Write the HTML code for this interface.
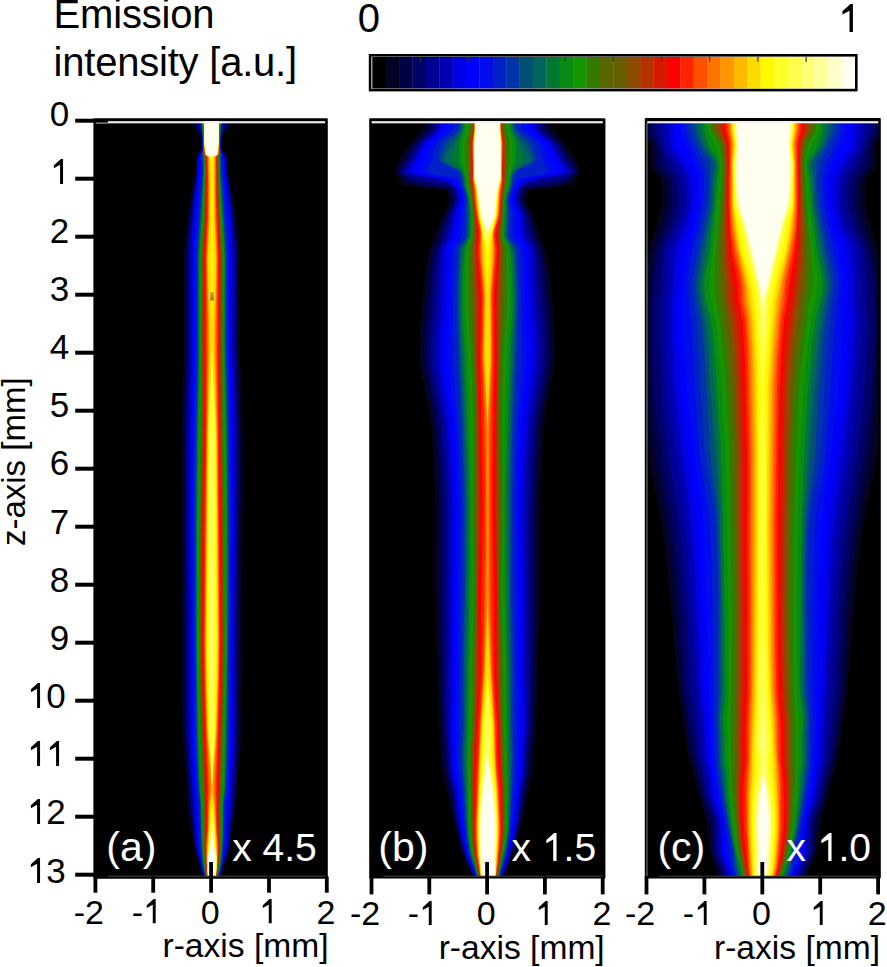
<!DOCTYPE html><html><head><meta charset="utf-8"><style>
html,body{margin:0;padding:0;background:#fff;overflow:hidden;}
body{width:887px;height:967px;position:relative;overflow:hidden;font-family:"Liberation Sans",sans-serif;}
div{position:absolute;line-height:1;white-space:pre;}
svg{position:absolute;left:0;top:0;}
svg.o{position:static;display:inline;width:.556em;height:.716em;fill:currentColor;vertical-align:baseline;}
</style></head><body>
<svg width="887" height="967" viewBox="0 0 887 967" shape-rendering="auto">
<rect x="372.30" y="56.9" width="13.69" height="31.6" fill="#000000"/>
<rect x="385.69" y="56.9" width="13.69" height="31.6" fill="#040422"/>
<rect x="399.08" y="56.9" width="13.69" height="31.6" fill="#000044"/>
<rect x="412.47" y="56.9" width="13.69" height="31.6" fill="#000069"/>
<rect x="425.86" y="56.9" width="13.69" height="31.6" fill="#000091"/>
<rect x="439.24" y="56.9" width="13.69" height="31.6" fill="#0000b2"/>
<rect x="452.63" y="56.9" width="13.69" height="31.6" fill="#0000e4"/>
<rect x="466.02" y="56.9" width="13.69" height="31.6" fill="#0000ff"/>
<rect x="479.41" y="56.9" width="13.69" height="31.6" fill="#000ceb"/>
<rect x="492.80" y="56.9" width="13.69" height="31.6" fill="#0020c8"/>
<rect x="506.19" y="56.9" width="13.69" height="31.6" fill="#0034aa"/>
<rect x="519.58" y="56.9" width="13.69" height="31.6" fill="#005073"/>
<rect x="532.97" y="56.9" width="13.69" height="31.6" fill="#00645f"/>
<rect x="546.36" y="56.9" width="13.69" height="31.6" fill="#007832"/>
<rect x="559.74" y="56.9" width="13.69" height="31.6" fill="#0a8c14"/>
<rect x="573.13" y="56.9" width="13.69" height="31.6" fill="#149600"/>
<rect x="586.52" y="56.9" width="13.69" height="31.6" fill="#327a00"/>
<rect x="599.91" y="56.9" width="13.69" height="31.6" fill="#5a6600"/>
<rect x="613.30" y="56.9" width="13.69" height="31.6" fill="#665e00"/>
<rect x="626.69" y="56.9" width="13.69" height="31.6" fill="#8c4b00"/>
<rect x="640.08" y="56.9" width="13.69" height="31.6" fill="#b43200"/>
<rect x="653.47" y="56.9" width="13.69" height="31.6" fill="#d71900"/>
<rect x="666.86" y="56.9" width="13.69" height="31.6" fill="#ff0000"/>
<rect x="680.24" y="56.9" width="13.69" height="31.6" fill="#ff2300"/>
<rect x="693.63" y="56.9" width="13.69" height="31.6" fill="#ff5000"/>
<rect x="707.02" y="56.9" width="13.69" height="31.6" fill="#ff7300"/>
<rect x="720.41" y="56.9" width="13.69" height="31.6" fill="#ff9600"/>
<rect x="733.80" y="56.9" width="13.69" height="31.6" fill="#ffb900"/>
<rect x="747.19" y="56.9" width="13.69" height="31.6" fill="#ffdc00"/>
<rect x="760.58" y="56.9" width="13.69" height="31.6" fill="#fffa00"/>
<rect x="773.97" y="56.9" width="13.69" height="31.6" fill="#ffff28"/>
<rect x="787.36" y="56.9" width="13.69" height="31.6" fill="#ffff4b"/>
<rect x="800.74" y="56.9" width="13.69" height="31.6" fill="#ffff73"/>
<rect x="814.13" y="56.9" width="13.69" height="31.6" fill="#ffff9b"/>
<rect x="827.52" y="56.9" width="13.69" height="31.6" fill="#ffffc8"/>
<rect x="840.91" y="56.9" width="13.69" height="31.6" fill="#fffff0"/>
<rect x="419.9" y="56.9" width="1.2" height="5" fill="#333"/>
<rect x="468.1" y="56.9" width="1.2" height="5" fill="#333"/>
<rect x="516.3" y="56.9" width="1.2" height="5" fill="#333"/>
<rect x="564.5" y="56.9" width="1.2" height="5" fill="#333"/>
<rect x="612.7" y="56.9" width="1.2" height="5" fill="#333"/>
<rect x="660.9" y="56.9" width="1.2" height="5" fill="#333"/>
<rect x="709.1" y="56.9" width="1.2" height="5" fill="#333"/>
<rect x="757.3" y="56.9" width="1.2" height="5" fill="#333"/>
<rect x="805.5" y="56.9" width="1.2" height="5" fill="#333"/>
<rect x="370.1" y="55.3" width="486.2" height="34.8" fill="none" stroke="#000" stroke-width="2.6"/>
<rect x="93.4" y="118.3" width="234.4" height="760.4" rx="1" fill="#000"/>
<clipPath id="ca"><rect x="95.7" y="121.0" width="229.8" height="755.7"/></clipPath>
<g clip-path="url(#ca)"><rect x="95.7" y="121.0" width="229.8" height="755.7" fill="#000"/>
<path fill="#040422" d="M232.4,121.0 231.7,124.0 230.4,127.0 223.1,134.0 222.5,135.0 221.3,140.0 221.3,148.0 221.7,149.0 226.3,154.0 227.7,157.0 228.3,173.0 233.9,201.0 235.8,212.0 238.7,237.0 239.8,253.0 239.7,348.0 242.1,417.0 242.5,439.0 242.3,654.0 241.7,719.0 241.0,742.0 237.9,780.0 236.2,810.0 233.0,827.0 230.3,847.0 221.1,876.0 202.5,876.0 194.0,848.0 192.9,842.0 191.1,827.0 187.5,809.0 186.6,785.0 183.0,744.0 182.2,724.0 181.5,648.0 181.7,435.0 182.1,414.0 183.9,351.0 184.0,254.0 185.2,237.0 188.3,211.0 192.8,186.0 195.5,173.0 195.7,157.0 196.9,154.0 201.4,149.0 201.7,148.0 201.7,140.0 200.5,135.0 199.9,134.0 192.6,127.0 191.3,124.0 190.6,121.0Z"/>
<path fill="#000044" d="M230.1,121.0 229.5,124.0 228.4,127.0 222.6,134.0 222.1,135.0 221.2,140.0 221.1,148.0 222.1,150.0 225.6,154.0 227.0,157.0 228.0,174.0 232.7,200.0 234.8,214.0 237.2,238.0 238.2,254.0 238.1,348.0 240.4,417.0 240.8,440.0 239.7,731.0 238.9,749.0 234.6,811.0 232.2,826.0 229.5,847.0 228.0,853.0 220.8,876.0 202.8,876.0 194.8,848.0 193.8,842.0 192.3,828.0 189.2,810.0 188.7,805.0 187.9,784.0 184.7,745.0 184.1,730.0 183.4,583.0 183.4,436.0 183.7,415.0 185.5,351.0 185.5,255.0 186.6,238.0 189.6,211.0 193.4,187.0 196.0,173.0 196.4,157.0 197.6,154.0 201.0,150.0 201.9,148.0 201.8,140.0 200.9,135.0 200.4,134.0 194.6,127.0 193.5,124.0 192.9,121.0Z"/>
<path fill="#000069" d="M227.8,121.0 226.3,127.0 221.7,135.0 221.0,140.0 220.9,148.0 221.7,150.0 225.6,155.0 226.4,157.0 227.3,173.0 231.2,197.0 233.4,214.0 235.8,239.0 236.7,254.0 236.5,348.0 238.7,417.0 239.1,440.0 237.8,732.0 237.1,753.0 233.8,802.0 229.6,841.0 228.7,847.0 227.6,852.0 220.5,876.0 203.2,876.0 196.8,853.0 195.4,847.0 193.2,828.0 190.7,810.0 186.7,750.0 186.0,730.0 185.2,540.0 185.1,436.0 185.4,415.0 187.1,351.0 187.1,255.0 188.1,239.0 191.0,210.0 194.1,187.0 196.6,172.0 197.0,157.0 197.7,155.0 201.4,150.0 202.1,148.0 202.0,140.0 201.3,135.0 196.7,127.0 195.2,121.0Z"/>
<path fill="#000091" d="M225.4,121.0 224.0,128.0 221.3,135.0 220.8,140.0 220.7,148.0 221.4,150.0 224.3,154.0 225.7,157.0 226.8,173.0 229.2,189.0 232.0,213.0 234.4,240.0 235.2,256.0 235.0,347.0 237.0,417.0 237.4,440.0 236.0,625.0 236.0,734.0 235.4,755.0 233.3,790.0 228.8,840.0 227.9,847.0 226.9,852.0 223.4,865.0 220.1,876.0 203.5,876.0 197.2,852.0 195.4,841.0 191.8,804.0 188.6,755.0 187.8,732.0 187.8,630.0 187.0,540.0 186.8,436.0 188.7,351.0 188.6,257.0 189.5,240.0 192.4,209.0 194.9,187.0 197.2,171.0 197.7,157.0 198.4,155.0 201.7,150.0 202.3,148.0 202.2,140.0 201.7,135.0 199.0,128.0 197.6,121.0Z"/>
<path fill="#0000b2" d="M224.3,121.0 223.3,128.0 221.1,135.0 220.6,148.0 221.6,151.0 224.7,156.0 225.2,158.0 226.2,173.0 228.9,194.0 231.0,213.0 233.1,240.0 233.8,256.0 233.5,347.0 235.5,417.0 235.8,440.0 235.4,550.0 234.7,630.0 234.7,734.0 234.0,757.0 232.1,790.0 230.5,806.0 227.8,843.0 227.2,848.0 226.1,853.0 219.8,876.0 203.8,876.0 197.7,852.0 196.3,843.0 192.4,795.0 190.7,770.0 189.6,749.0 189.1,731.0 189.1,629.0 188.3,541.0 188.4,436.0 190.1,351.0 190.0,257.0 190.4,246.0 191.4,232.0 194.2,201.0 197.8,171.0 198.4,157.0 199.0,155.0 201.6,151.0 202.4,148.0 201.9,135.0 199.7,128.0 198.7,121.0Z"/>
<path fill="#0000e4" d="M223.2,121.0 222.7,127.0 220.9,135.0 220.4,148.0 221.6,152.0 224.0,156.0 224.6,159.0 225.6,172.0 229.9,213.0 231.9,240.0 232.5,255.0 232.0,346.0 234.2,440.0 234.1,550.0 233.3,633.0 233.3,734.0 232.9,753.0 231.8,776.0 230.9,791.0 229.2,806.0 226.9,846.0 225.6,853.0 219.4,876.0 204.2,876.0 198.2,852.0 197.2,846.0 195.2,813.0 193.4,792.0 191.7,767.0 190.8,748.0 190.5,731.0 190.4,630.0 189.7,540.0 190.1,429.0 191.6,349.0 191.3,257.0 191.7,245.0 192.7,231.0 194.9,203.0 198.3,171.0 198.9,158.0 199.7,155.0 201.6,152.0 202.6,148.0 202.1,135.0 200.3,127.0 199.8,121.0Z"/>
<path fill="#0000ff" d="M222.0,121.0 222.0,127.0 220.7,135.0 220.3,148.0 221.1,152.0 223.7,157.0 224.1,160.0 228.8,212.0 230.5,238.0 231.1,252.0 230.5,343.0 232.6,438.0 232.8,549.0 232.0,630.0 232.0,736.0 231.3,761.0 229.8,790.0 227.8,806.0 226.3,847.0 225.1,853.0 219.1,876.0 204.5,876.0 198.7,852.0 197.8,847.0 196.2,809.0 194.5,791.0 192.9,765.0 192.1,747.0 191.8,731.0 191.8,630.0 191.0,540.0 191.7,430.0 193.1,350.0 192.6,257.0 193.9,231.0 195.8,204.0 198.9,170.0 199.5,159.0 200.0,156.0 202.1,152.0 202.7,149.0 202.3,135.0 201.0,127.0 201.0,121.0Z"/>
<path fill="#000ceb" d="M221.8,121.0 221.7,127.0 220.6,135.0 220.2,148.0 220.9,152.0 222.3,155.0 222.8,158.0 223.8,173.0 227.3,213.0 229.0,239.0 229.6,253.0 229.1,344.0 231.2,440.0 231.5,554.0 230.5,734.0 229.9,762.0 228.5,790.0 226.4,806.0 226.0,828.0 225.1,847.0 222.5,862.0 218.9,876.0 204.7,876.0 201.7,863.0 199.0,847.0 197.3,805.0 195.8,791.0 193.8,755.0 193.2,730.0 192.3,557.0 192.4,510.0 193.1,432.0 194.5,351.0 194.2,255.0 194.9,240.0 197.0,208.0 200.2,170.0 200.7,157.0 201.2,154.0 202.3,152.0 202.8,149.0 202.4,135.0 201.3,127.0 201.2,121.0Z"/>
<path fill="#0020c8" d="M221.6,121.0 221.5,127.0 220.5,135.0 220.1,148.0 220.7,152.0 221.7,154.0 221.8,155.0 222.4,172.0 225.5,210.0 227.5,240.0 228.0,254.0 227.7,345.0 229.7,440.0 230.2,508.0 230.2,562.0 229.2,720.0 228.4,764.0 227.1,790.0 225.1,806.0 224.9,829.0 223.8,849.0 222.0,863.0 218.7,876.0 204.9,876.0 201.9,863.0 200.3,849.0 199.4,833.0 198.7,805.0 197.1,791.0 195.3,756.0 194.6,720.0 193.7,568.0 194.0,479.0 194.6,425.0 195.9,352.0 195.8,256.0 196.4,241.0 198.8,204.0 201.4,172.0 201.5,154.0 202.5,152.0 202.9,149.0 202.5,135.0 201.5,127.0 201.4,121.0Z"/>
<path fill="#0034aa" d="M221.4,121.0 221.3,127.0 220.4,135.0 220.0,148.0 220.5,152.0 221.3,154.0 220.8,157.0 221.1,173.0 223.6,204.0 225.9,240.0 226.5,255.0 226.2,345.0 228.3,440.0 228.9,514.0 228.8,578.0 228.1,701.0 226.9,765.0 225.8,790.0 223.7,805.0 223.8,830.0 222.1,860.0 221.0,867.0 218.5,876.0 205.1,876.0 202.8,867.0 201.9,860.0 200.5,831.0 200.0,804.0 198.5,791.0 196.8,758.0 195.8,705.0 195.0,590.0 195.1,501.0 196.1,427.0 197.4,353.0 197.3,257.0 197.9,242.0 200.9,195.0 202.8,172.0 202.6,157.0 201.9,155.0 201.9,154.0 202.7,152.0 202.9,147.0 202.6,135.0 201.7,127.0 201.6,121.0Z"/>
<path fill="#005073" d="M221.1,121.0 221.1,127.0 220.2,135.0 220.0,148.0 220.4,152.0 220.9,154.0 220.5,157.0 220.7,172.0 225.2,238.0 226.0,256.0 225.7,344.0 227.8,440.0 228.4,519.0 228.3,602.0 227.6,701.0 227.0,745.0 226.3,771.0 225.3,791.0 223.5,805.0 223.4,830.0 222.0,857.0 220.8,866.0 218.2,876.0 205.4,876.0 203.0,866.0 202.1,858.0 200.9,833.0 200.3,804.0 198.9,791.0 197.7,768.0 196.6,727.0 195.7,640.0 195.5,525.0 196.5,429.0 197.8,356.0 197.8,258.0 198.5,241.0 203.1,172.0 202.9,157.0 202.3,154.0 202.8,152.0 203.0,149.0 202.8,135.0 201.9,127.0 201.9,121.0Z"/>
<path fill="#00645f" d="M220.9,121.0 220.9,127.0 220.1,135.0 219.9,148.0 220.6,154.0 220.2,157.0 220.5,173.0 224.9,241.0 225.5,257.0 225.3,348.0 227.2,436.0 227.8,502.0 227.7,642.0 226.6,739.0 225.5,780.0 224.9,791.0 223.2,805.0 223.0,831.0 221.8,855.0 220.6,865.0 218.0,876.0 205.6,876.0 203.3,865.0 202.2,855.0 201.3,835.0 200.6,804.0 199.3,791.0 198.3,772.0 197.1,730.0 196.1,646.0 196.0,525.0 197.0,429.0 198.3,356.0 198.3,258.0 198.8,244.0 203.4,172.0 203.2,157.0 202.6,154.0 203.1,149.0 202.9,135.0 202.1,127.0 202.1,121.0Z"/>
<path fill="#007832" d="M220.7,121.0 220.7,127.0 220.0,134.0 219.8,147.0 220.2,154.0 219.9,157.0 220.1,173.0 224.5,243.0 225.0,257.0 224.8,348.0 226.7,435.0 227.3,500.0 227.3,646.0 226.0,743.0 224.9,783.0 224.5,791.0 222.9,806.0 222.8,828.0 221.9,851.0 220.4,864.0 217.8,876.0 205.8,876.0 203.5,864.0 202.2,851.0 200.9,805.0 199.7,792.0 198.9,775.0 197.6,730.0 196.5,649.0 196.5,524.0 197.5,429.0 198.8,356.0 198.8,258.0 199.2,246.0 201.4,216.0 203.7,173.0 203.5,157.0 203.0,154.0 203.2,150.0 203.0,135.0 202.3,127.0 202.3,121.0Z"/>
<path fill="#0a8c14" d="M220.5,121.0 219.7,147.0 219.9,175.0 221.2,201.0 224.0,245.0 224.5,257.0 224.3,348.0 226.2,435.0 226.8,499.0 226.9,649.0 225.0,765.0 224.2,790.0 222.6,806.0 222.0,846.0 220.3,862.0 217.5,876.0 206.1,876.0 203.8,863.0 202.2,847.0 201.2,805.0 200.0,791.0 198.7,754.0 197.4,693.0 196.9,651.0 197.0,522.0 198.0,429.0 199.3,356.0 199.3,258.0 199.9,244.0 202.0,215.0 204.0,171.0 203.8,157.0 203.4,154.0 203.1,134.0 202.5,127.0 202.5,121.0Z"/>
<path fill="#149600" d="M220.4,121.0 220.3,127.0 219.8,134.0 219.7,154.0 218.9,157.0 219.4,179.0 221.4,218.0 223.2,245.0 223.6,257.0 223.3,345.0 225.0,438.0 225.4,489.0 225.8,648.0 223.9,761.0 223.0,790.0 221.6,806.0 221.3,847.0 219.9,862.0 217.4,876.0 206.2,876.0 204.2,863.0 202.8,847.0 202.2,804.0 200.8,783.0 199.7,745.0 198.0,649.0 198.2,523.0 200.3,356.0 200.2,258.0 200.7,245.0 202.8,215.0 204.7,171.0 204.5,157.0 203.5,154.0 203.2,134.0 202.7,127.0 202.6,121.0Z"/>
<path fill="#327a00" d="M220.2,121.0 220.2,127.0 219.7,134.0 219.5,154.0 219.3,155.0 218.2,157.0 218.6,177.0 220.5,218.0 222.3,246.0 222.7,257.0 222.4,346.0 224.3,509.0 224.8,647.0 224.3,681.0 222.5,770.0 221.9,790.0 220.6,806.0 220.7,848.0 219.3,863.0 217.2,876.0 206.4,876.0 204.7,864.0 203.4,848.0 203.2,804.0 202.1,785.0 201.1,754.0 199.5,685.0 199.1,648.0 199.3,534.0 201.2,366.0 201.1,258.0 201.6,245.0 203.6,215.0 205.4,171.0 205.2,157.0 203.9,155.0 203.7,154.0 203.3,134.0 202.8,127.0 202.8,121.0Z"/>
<path fill="#5a6600" d="M220.1,121.0 220.1,127.0 219.5,134.0 219.4,154.0 219.1,155.0 217.5,157.0 217.8,176.0 221.8,257.0 221.5,350.0 223.2,525.0 223.7,646.0 223.3,678.0 221.3,771.0 220.7,790.0 219.6,806.0 220.1,848.0 219.0,862.0 217.1,876.0 206.5,876.0 205.1,864.0 204.0,848.0 204.2,804.0 203.1,781.0 202.2,750.0 200.6,681.0 200.1,647.0 200.5,540.0 201.7,445.0 202.0,404.0 202.0,258.0 202.5,245.0 204.4,215.0 206.1,171.0 205.9,157.0 204.1,155.0 203.8,154.0 203.5,134.0 202.9,127.0 202.9,121.0Z"/>
<path fill="#665e00" d="M220.0,121.0 220.0,127.0 219.4,134.0 219.2,154.0 218.9,155.0 217.4,157.0 217.7,175.0 219.0,209.0 221.4,257.0 221.1,352.0 222.9,529.0 223.3,646.0 222.9,678.0 220.8,770.0 220.2,790.0 219.3,806.0 219.8,848.0 218.8,862.0 217.0,876.0 206.7,876.0 205.3,864.0 204.3,848.0 204.5,803.0 202.3,736.0 200.9,678.0 200.5,647.0 200.9,538.0 202.3,440.0 202.4,258.0 202.9,245.0 204.7,215.0 206.2,171.0 206.0,157.0 204.3,155.0 203.9,153.0 203.6,134.0 203.0,127.0 203.0,121.0Z"/>
<path fill="#8c4b00" d="M219.9,121.0 219.8,127.0 219.3,134.0 219.1,153.0 218.8,155.0 217.3,157.0 217.6,175.0 218.8,210.0 221.0,257.0 220.8,357.0 222.5,531.0 222.9,645.0 222.5,677.0 220.4,767.0 219.7,790.0 218.9,806.0 219.5,848.0 218.5,862.0 216.8,876.0 206.8,876.0 205.6,864.0 204.6,849.0 204.9,802.0 202.6,730.0 201.3,676.0 200.9,646.0 201.3,537.0 202.8,440.0 202.8,258.0 203.2,246.0 205.0,215.0 206.3,171.0 206.1,157.0 204.5,155.0 204.1,153.0 203.7,134.0 203.2,127.0 203.1,121.0Z"/>
<path fill="#b43200" d="M219.8,121.0 219.7,127.0 219.2,134.0 219.0,153.0 218.6,155.0 217.2,157.0 218.5,212.0 220.6,257.0 220.4,363.0 221.1,456.0 222.1,532.0 222.5,645.0 221.9,685.0 219.3,790.0 218.6,805.0 219.2,848.0 218.3,862.0 216.7,876.0 206.9,876.0 205.8,864.0 204.9,849.0 205.2,801.0 202.0,688.0 201.3,646.0 201.7,537.0 203.2,440.0 203.2,258.0 203.6,246.0 205.4,215.0 206.4,171.0 206.2,157.0 204.6,155.0 204.2,153.0 203.8,133.0 203.3,127.0 203.2,121.0Z"/>
<path fill="#d71900" d="M219.6,121.0 219.6,127.0 219.0,134.0 218.9,153.0 218.5,155.0 217.1,157.0 218.3,216.0 220.2,257.0 220.0,372.0 220.6,456.0 221.7,533.0 222.2,645.0 221.6,680.0 218.3,805.0 218.8,848.0 218.1,862.0 216.6,876.0 207.1,876.0 206.0,864.0 205.3,849.0 205.6,820.0 205.4,790.0 202.3,686.0 201.6,646.0 202.0,537.0 203.7,440.0 203.6,258.0 205.6,216.0 206.5,171.0 206.3,157.0 204.8,155.0 204.3,152.0 203.9,133.0 203.4,127.0 203.4,121.0Z"/>
<path fill="#ff0000" d="M219.5,121.0 219.5,127.0 218.9,133.0 218.8,152.0 218.3,155.0 217.0,157.0 218.1,217.0 219.8,257.0 219.5,340.0 219.7,391.0 220.1,457.0 221.4,534.0 221.8,645.0 221.3,677.0 217.9,805.0 218.5,849.0 217.8,863.0 216.4,876.0 207.2,876.0 206.3,865.0 205.6,850.0 205.9,790.0 202.7,685.0 202.0,646.0 202.4,536.0 204.2,440.0 204.0,258.0 206.0,216.0 206.6,171.0 206.4,157.0 205.0,155.0 204.4,152.0 204.1,133.0 203.5,127.0 203.5,121.0Z"/>
<path fill="#ff2300" d="M219.4,121.0 219.4,127.0 218.9,133.0 218.7,152.0 218.1,155.0 216.5,157.0 216.9,202.0 218.8,257.0 218.4,355.0 220.3,580.0 220.6,646.0 219.8,691.0 217.1,783.0 217.2,820.0 218.3,848.0 217.6,862.0 216.3,876.0 207.3,876.0 206.4,864.0 205.8,847.0 206.8,828.0 207.0,783.0 205.0,730.0 203.6,674.0 203.2,640.0 203.8,540.0 205.2,440.0 205.3,358.0 205.0,258.0 206.8,215.0 207.1,170.0 206.9,157.0 205.1,155.0 204.7,154.0 204.4,151.0 203.6,121.0Z"/>
<path fill="#ff5000" d="M219.3,121.0 218.6,152.0 217.9,155.0 216.0,157.0 216.0,198.0 217.8,257.0 217.1,346.0 219.4,639.0 218.5,700.0 217.6,736.0 215.9,786.0 216.5,829.0 218.0,842.0 218.1,847.0 217.4,861.0 216.2,876.0 207.5,876.0 206.0,846.0 207.7,829.0 207.7,806.0 208.3,786.0 206.0,730.0 204.7,675.0 204.4,638.0 206.4,389.0 206.5,331.0 206.0,258.0 207.6,217.0 207.9,186.0 207.4,157.0 205.3,155.0 204.7,153.0 203.7,121.0Z"/>
<path fill="#ff7300" d="M219.2,121.0 218.4,152.0 218.2,154.0 217.7,155.0 215.5,157.0 215.4,186.0 215.9,219.0 217.3,257.0 216.2,343.0 217.6,440.0 219.0,637.0 218.6,676.0 217.2,732.0 214.8,785.0 214.8,793.0 215.5,804.0 216.2,829.0 217.6,845.0 217.2,862.0 216.1,876.0 207.6,876.0 206.8,863.0 206.5,845.0 208.0,829.0 208.3,806.0 209.3,793.0 209.4,788.0 208.9,773.0 206.5,730.0 205.1,675.0 204.8,636.0 207.4,359.0 207.3,328.0 206.5,258.0 208.1,217.0 208.4,185.0 207.8,157.0 205.5,155.0 204.9,153.0 204.3,144.0 203.8,121.0Z"/>
<path fill="#ff9600" d="M219.2,121.0 218.2,153.0 217.5,155.0 215.1,157.0 214.9,184.0 215.3,219.0 216.8,257.0 215.4,343.0 217.2,440.0 218.6,635.0 218.2,676.0 216.7,732.0 214.3,772.0 213.7,787.0 213.8,793.0 214.9,805.0 215.8,829.0 217.1,845.0 217.1,862.0 215.9,876.0 207.7,876.0 206.9,863.0 207.0,845.0 208.4,828.0 208.8,806.0 210.3,793.0 210.5,788.0 209.9,773.0 207.0,730.0 205.6,675.0 205.2,634.0 206.8,461.0 208.2,352.0 208.2,326.0 207.0,259.0 208.7,218.0 208.9,184.0 208.3,157.0 205.7,155.0 205.0,153.0 204.3,144.0 203.8,121.0Z"/>
<path fill="#ffb900" d="M219.1,121.0 218.2,152.0 217.9,154.0 217.3,155.0 214.6,157.0 214.5,164.0 214.7,218.0 216.3,259.0 216.0,279.0 214.7,325.0 214.5,345.0 216.8,440.0 218.2,644.0 217.7,682.0 216.2,732.0 213.2,774.0 212.6,790.0 212.9,794.0 214.3,805.0 216.8,852.0 216.9,864.0 215.8,876.0 207.8,876.0 207.0,864.0 207.2,852.0 208.8,828.0 209.4,806.0 211.2,794.0 211.6,790.0 210.9,774.0 208.3,744.0 207.5,731.0 206.1,682.0 205.6,645.0 207.2,453.0 209.1,349.0 209.0,326.0 207.7,279.0 207.5,259.0 209.3,218.0 209.4,177.0 208.8,157.0 205.9,155.0 205.3,154.0 204.9,151.0 204.4,143.0 203.9,121.0Z"/>
<path fill="#ffdc00" d="M219.0,121.0 218.6,142.0 218.1,152.0 217.8,154.0 217.2,155.0 214.2,157.0 213.9,165.0 214.2,219.0 215.6,249.0 215.8,260.0 215.4,280.0 213.8,324.0 213.6,344.0 214.1,367.0 216.4,440.0 217.8,644.0 217.3,682.0 215.7,732.0 212.8,772.0 212.1,786.0 212.0,786.0 211.3,772.0 208.9,744.0 208.0,731.0 206.5,682.0 206.0,645.0 207.8,436.0 210.0,350.0 209.8,325.0 208.3,280.0 208.0,261.0 208.2,250.0 209.9,218.0 209.9,170.0 209.2,157.0 206.1,155.0 205.4,154.0 205.0,151.0 204.4,143.0 204.0,121.0ZM212.1,791.0 213.9,807.0 216.7,856.0 216.6,866.0 215.7,876.0 207.9,876.0 207.3,867.0 207.3,857.0 209.2,828.0 210.0,806.0 212.1,791.0Z"/>
<path fill="#fffa00" d="M218.9,121.0 218.5,143.0 217.8,153.0 217.6,154.0 216.9,155.0 212.9,157.0 212.6,162.0 212.7,219.0 213.2,263.0 211.9,331.0 211.8,331.0 210.6,264.0 211.3,216.0 211.1,166.0 210.4,157.0 206.4,155.0 205.6,154.0 205.4,153.0 204.5,143.0 204.1,121.0ZM211.9,347.0 212.5,367.0 215.0,416.0 215.7,439.0 216.8,636.0 216.4,677.0 215.1,732.0 212.6,772.0 212.1,786.0 212.1,786.0 211.4,772.0 208.7,731.0 207.4,680.0 207.0,641.0 207.5,540.0 208.5,436.0 209.1,415.0 211.3,368.0 211.8,347.0ZM212.0,808.0 214.5,827.0 215.6,846.0 216.6,857.0 216.5,867.0 215.6,876.0 208.0,876.0 207.4,868.0 207.4,858.0 208.5,846.0 209.7,827.0 211.9,808.0Z"/>
<path fill="#ffff28" d="M218.9,121.0 218.5,143.0 217.7,153.0 217.4,154.0 216.6,155.0 213.6,156.0 211.7,157.0 211.7,157.0 209.8,156.0 206.7,155.0 205.8,154.0 205.5,153.0 204.5,143.0 204.1,121.0ZM211.9,348.0 215.1,440.0 215.6,509.0 215.7,599.0 215.7,656.0 215.0,703.0 214.3,737.0 212.1,785.0 212.0,785.0 209.4,731.0 208.4,680.0 208.1,641.0 208.1,536.0 208.7,469.0 209.4,426.0 211.3,371.0 211.8,348.0ZM212.0,808.0 214.0,827.0 215.1,846.0 216.5,858.0 216.3,868.0 215.5,876.0 208.1,876.0 207.5,868.0 207.5,858.0 209.0,846.0 210.1,827.0 211.9,808.0Z"/>
<path fill="#ffff4b" d="M218.8,121.0 218.4,143.0 217.5,153.0 217.3,154.0 216.4,155.0 213.5,156.0 211.7,157.0 211.7,157.0 209.8,156.0 206.8,155.0 205.9,154.0 205.7,153.0 204.6,143.0 204.2,121.0ZM211.9,349.0 214.4,437.0 215.0,529.0 214.3,696.0 213.7,736.0 212.1,784.0 212.0,784.0 210.2,737.0 209.8,714.0 209.2,650.0 208.8,547.0 209.0,502.0 209.9,433.0 211.8,349.0ZM211.9,808.0 213.7,828.0 214.7,846.0 216.4,859.0 216.2,869.0 215.4,876.0 208.2,876.0 207.6,869.0 207.6,859.0 209.5,846.0 211.9,808.0Z"/>
<path fill="#ffff73" d="M218.7,121.0 218.4,143.0 217.4,153.0 217.1,154.0 216.2,155.0 213.4,156.0 211.7,157.0 211.7,157.0 209.9,156.0 207.0,155.0 206.1,154.0 205.8,153.0 204.6,143.0 204.3,121.0ZM211.9,551.0 213.3,640.0 211.9,720.0 211.9,720.0 210.5,640.0 211.9,551.0ZM212.1,829.0 212.8,836.0 216.3,858.0 216.1,868.0 215.3,876.0 208.3,876.0 207.7,868.0 207.7,858.0 211.4,836.0 212.1,829.0Z"/>
<path fill="#ffff9b" d="M218.6,121.0 218.4,142.0 217.2,153.0 216.9,154.0 216.1,155.0 213.4,156.0 211.7,157.0 211.7,157.0 210.0,156.0 207.2,155.0 206.3,154.0 206.0,153.0 205.1,148.0 204.7,143.0 204.4,121.0ZM212.1,830.0 212.9,838.0 216.1,858.0 216.0,868.0 215.2,876.0 208.4,876.0 207.8,868.0 207.9,858.0 211.2,838.0 212.1,830.0Z"/>
<path fill="#ffffc8" d="M218.6,121.0 218.3,142.0 217.2,152.0 216.8,154.0 215.9,155.0 213.3,156.0 211.7,157.0 211.7,157.0 210.0,156.0 207.3,155.0 206.4,154.0 205.7,151.0 204.7,142.0 204.4,121.0ZM212.1,830.0 213.8,846.0 216.1,859.0 215.9,869.0 215.1,876.0 208.5,876.0 207.9,868.0 208.0,858.0 210.3,846.0 212.1,830.0Z"/>
<path fill="#fffff0" d="M218.5,121.0 218.3,142.0 217.1,152.0 216.6,154.0 215.8,155.0 213.2,156.0 211.7,157.0 211.7,157.0 210.1,156.0 207.5,155.0 206.6,154.0 205.6,150.0 204.7,142.0 204.5,121.0ZM212.1,830.0 213.7,847.0 215.6,856.0 216.0,859.0 215.7,869.0 215.0,876.0 208.6,876.0 208.0,869.0 208.0,859.0 210.6,846.0 212.1,830.0Z"/>
</g>
<rect x="95.7" y="122.3" width="12.3" height="1.6" fill="#777"/>
<rect x="108.0" y="121.2" width="217.1" height="2.1" fill="#f2f2f2"/>
<rect x="107.7" y="875.7" width="217.8" height="1" fill="#444"/>
<rect x="369.2" y="118.2" width="236.2" height="760.3" rx="1" fill="#000"/>
<clipPath id="cb"><rect x="371.4" y="121.0" width="231.80000000000007" height="755.5"/></clipPath>
<g clip-path="url(#cb)"><rect x="371.4" y="121.0" width="231.80000000000007" height="755.5" fill="#000"/>
<path fill="#040422" d="M548.0,121.0 552.5,129.0 564.1,143.0 573.5,156.0 575.1,159.0 578.3,166.0 579.2,169.0 579.6,172.0 579.1,174.0 575.5,180.0 574.5,183.0 573.5,185.0 568.4,186.0 533.1,189.0 528.2,190.0 527.1,193.0 526.3,197.0 526.1,200.0 526.7,203.0 527.9,206.0 532.8,215.0 539.3,235.0 544.7,247.0 545.6,250.0 547.8,261.0 550.5,279.0 552.6,300.0 554.6,332.0 554.9,354.0 554.3,363.0 552.9,374.0 546.3,408.0 544.3,421.0 543.5,429.0 541.6,459.0 540.6,481.0 540.2,500.0 539.8,605.0 537.7,668.0 536.5,718.0 536.0,731.0 533.7,750.0 532.2,771.0 531.0,779.0 526.1,803.0 522.1,821.0 518.8,834.0 515.1,847.0 509.9,863.0 506.2,872.0 503.8,876.0 472.6,876.0 469.2,870.0 465.6,862.0 462.9,855.0 459.6,844.0 452.3,815.0 446.8,790.0 443.4,776.0 442.1,768.0 439.2,732.0 437.5,666.0 435.5,612.0 435.2,592.0 435.3,504.0 434.8,486.0 433.9,466.0 431.6,430.0 430.8,422.0 428.8,409.0 421.7,373.0 420.3,363.0 419.7,354.0 419.7,344.0 420.2,331.0 423.0,295.0 425.0,276.0 427.6,259.0 429.6,249.0 430.6,246.0 443.6,214.0 448.1,204.0 448.7,201.0 448.6,197.0 447.8,193.0 446.8,190.0 441.9,189.0 406.6,186.0 401.5,185.0 400.5,183.0 399.5,180.0 395.9,174.0 395.4,172.0 395.8,169.0 396.7,166.0 399.9,159.0 401.5,156.0 410.9,143.0 422.5,129.0 427.0,121.0Z"/>
<path fill="#000044" d="M545.4,121.0 547.1,126.0 549.4,130.0 561.3,143.0 567.5,152.0 576.0,167.0 577.1,170.0 577.4,172.0 577.2,173.0 576.0,175.0 570.2,180.0 565.5,183.0 560.5,185.0 555.0,186.0 529.0,189.0 525.6,190.0 524.7,193.0 524.0,197.0 523.9,200.0 524.4,203.0 525.7,206.0 530.5,215.0 536.1,235.0 542.0,248.0 544.1,258.0 546.6,276.0 548.8,300.0 551.0,332.0 551.3,354.0 550.7,363.0 549.3,374.0 543.0,408.0 541.0,421.0 540.1,430.0 538.1,463.0 536.8,501.0 536.6,607.0 534.1,716.0 533.5,731.0 531.2,750.0 529.9,771.0 528.9,778.0 522.2,814.0 518.2,833.0 514.6,846.0 509.5,862.0 506.0,871.0 503.3,876.0 473.1,876.0 469.4,869.0 465.6,860.0 463.1,853.0 459.6,841.0 454.9,821.0 449.0,790.0 445.5,775.0 444.5,769.0 441.7,733.0 441.0,712.0 438.6,606.0 438.6,506.0 437.4,470.0 435.4,437.0 434.1,422.0 432.1,409.0 425.2,373.0 423.8,362.0 423.2,353.0 423.5,338.0 424.9,318.0 428.3,278.0 431.1,257.0 432.7,249.0 433.6,246.0 437.9,236.0 445.8,214.0 450.3,204.0 450.9,201.0 450.7,196.0 449.4,190.0 446.0,189.0 420.0,186.0 414.5,185.0 409.5,183.0 406.2,181.0 399.9,176.0 398.3,174.0 397.6,172.0 397.9,170.0 399.0,167.0 407.5,152.0 413.7,143.0 425.6,130.0 427.9,126.0 429.6,121.0Z"/>
<path fill="#000069" d="M542.8,121.0 543.7,126.0 544.9,129.0 548.1,133.0 555.7,140.0 559.3,144.0 562.5,149.0 569.1,161.0 574.0,168.0 574.9,170.0 575.2,172.0 574.3,174.0 572.0,176.0 566.8,179.0 562.4,181.0 547.5,185.0 525.1,189.0 523.1,190.0 521.9,196.0 521.6,200.0 522.2,203.0 528.3,215.0 533.0,235.0 539.0,248.0 540.6,256.0 543.1,276.0 546.6,321.0 547.6,339.0 547.7,354.0 547.2,363.0 545.8,374.0 539.4,409.0 537.5,422.0 536.2,440.0 534.4,472.0 533.5,503.0 533.2,616.0 531.7,708.0 531.0,732.0 528.7,750.0 527.2,774.0 518.5,827.0 515.2,841.0 509.7,859.0 505.7,870.0 502.8,876.0 473.6,876.0 469.7,868.0 465.6,858.0 463.0,850.0 459.9,839.0 456.7,824.0 451.1,790.0 447.9,776.0 446.9,769.0 445.6,748.0 444.2,733.0 443.5,710.0 441.9,604.0 441.9,504.0 440.9,474.0 439.3,446.0 437.6,423.0 435.5,409.0 428.8,373.0 427.4,362.0 426.8,353.0 427.0,341.0 428.0,325.0 432.2,274.0 434.6,255.0 436.3,247.0 441.1,236.0 448.1,214.0 452.5,204.0 453.2,201.0 452.9,195.0 451.9,190.0 449.9,189.0 427.5,185.0 412.6,181.0 408.2,179.0 403.0,176.0 400.7,174.0 399.8,172.0 400.1,170.0 401.0,168.0 405.9,161.0 412.5,149.0 415.7,144.0 419.3,140.0 426.9,133.0 430.1,129.0 431.3,126.0 432.2,121.0Z"/>
<path fill="#000091" d="M540.4,121.0 540.4,127.0 540.5,128.0 541.4,130.0 544.1,133.0 553.9,141.0 556.6,144.0 559.0,148.0 565.0,160.0 571.5,168.0 572.6,170.0 573.0,172.0 572.7,173.0 572.0,174.0 569.1,176.0 559.5,180.0 554.3,181.0 528.6,184.0 524.5,185.0 522.2,187.0 520.8,189.0 519.6,196.0 519.4,200.0 520.0,203.0 526.0,215.0 529.8,235.0 531.0,238.0 535.6,247.0 536.3,249.0 537.0,253.0 539.1,271.0 543.3,326.0 544.1,341.0 544.2,353.0 543.7,362.0 542.4,373.0 536.1,409.0 534.1,423.0 532.4,448.0 530.9,476.0 530.2,504.0 530.1,609.0 529.5,680.0 529.1,712.0 528.5,732.0 526.2,750.0 524.9,774.0 521.9,793.0 518.6,819.0 516.9,830.0 514.0,842.0 508.6,860.0 505.0,870.0 502.2,876.0 474.2,876.0 469.9,867.0 466.0,857.0 463.2,848.0 460.6,838.0 457.6,822.0 453.3,790.0 450.2,776.0 449.3,770.0 448.1,748.0 446.7,733.0 446.0,705.0 445.1,610.0 445.2,507.0 444.4,477.0 442.8,449.0 440.9,423.0 438.8,409.0 432.3,373.0 431.0,362.0 430.4,353.0 430.6,343.0 431.3,330.0 434.0,300.0 436.1,269.0 438.0,253.0 439.3,247.0 443.5,238.0 444.9,234.0 450.3,214.0 455.0,203.0 455.4,200.0 455.1,194.0 454.2,189.0 452.8,187.0 450.5,185.0 446.4,184.0 420.7,181.0 415.5,180.0 405.9,176.0 403.0,174.0 402.3,173.0 402.0,172.0 402.4,170.0 403.5,168.0 410.0,160.0 416.0,148.0 418.4,144.0 421.1,141.0 430.9,133.0 433.6,130.0 434.5,128.0 434.6,127.0 434.6,121.0Z"/>
<path fill="#0000b2" d="M537.7,121.0 537.7,127.0 537.8,128.0 538.7,130.0 541.4,133.0 551.2,141.0 553.9,144.0 556.3,148.0 562.2,160.0 568.9,169.0 569.8,172.0 568.8,173.0 566.0,174.0 541.4,179.0 530.7,182.0 525.0,184.0 521.9,186.0 519.2,189.0 517.9,196.0 517.6,200.0 518.2,203.0 523.7,215.0 526.7,235.0 527.9,238.0 532.5,246.0 533.8,250.0 535.2,265.0 537.1,302.0 539.5,334.0 539.9,344.0 539.9,354.0 539.4,363.0 538.2,374.0 532.5,410.0 530.7,424.0 528.5,456.0 527.2,482.0 526.7,507.0 527.1,588.0 526.7,730.0 524.8,750.0 523.9,771.0 523.3,776.0 520.5,792.0 517.1,822.0 515.1,834.0 512.6,844.0 507.8,860.0 504.3,870.0 501.7,876.0 474.7,876.0 470.3,866.0 466.8,857.0 463.8,847.0 461.5,838.0 458.8,823.0 454.8,790.0 451.6,776.0 450.6,770.0 448.5,731.0 448.1,590.0 448.7,510.0 448.2,486.0 446.8,459.0 444.3,424.0 442.4,410.0 436.4,373.0 435.2,362.0 434.7,353.0 435.1,337.0 438.2,300.0 439.8,266.0 441.2,250.0 442.3,246.0 446.6,238.0 448.0,234.0 452.5,214.0 456.8,203.0 457.2,200.0 456.9,195.0 455.8,189.0 453.1,186.0 450.0,184.0 444.3,182.0 433.6,179.0 409.0,174.0 406.2,173.0 405.2,172.0 406.1,169.0 412.8,160.0 418.7,148.0 421.1,144.0 423.8,141.0 433.6,133.0 436.3,130.0 437.2,128.0 437.3,127.0 437.3,121.0Z"/>
<path fill="#0000e4" d="M535.0,121.0 535.0,127.0 535.1,128.0 536.0,130.0 538.7,133.0 548.5,141.0 551.2,144.0 554.1,149.0 559.4,160.0 565.8,169.0 566.6,172.0 565.3,173.0 561.8,174.0 533.6,179.0 528.0,181.0 523.1,184.0 519.4,187.0 517.6,189.0 516.7,192.0 516.0,197.0 515.9,200.0 516.4,203.0 520.4,212.0 521.5,215.0 523.5,235.0 524.8,238.0 529.8,246.0 530.7,248.0 531.2,250.0 531.8,264.0 532.8,302.0 535.4,338.0 535.7,354.0 535.2,363.0 534.2,374.0 528.9,411.0 527.3,425.0 524.7,464.0 523.5,490.0 523.2,518.0 524.1,580.0 524.1,674.0 524.7,730.0 523.3,750.0 522.6,771.0 521.9,776.0 519.0,792.0 516.0,822.0 514.2,834.0 511.7,844.0 507.0,860.0 503.2,871.0 501.1,876.0 475.3,876.0 470.2,864.0 467.2,856.0 462.4,838.0 460.0,824.0 456.3,790.0 453.0,776.0 452.0,770.0 450.4,732.0 451.1,674.0 451.1,583.0 452.2,516.0 451.9,493.0 450.6,466.0 447.7,425.0 446.0,411.0 440.5,374.0 439.4,363.0 438.9,353.0 439.3,338.0 442.5,300.0 443.2,263.0 443.9,249.0 445.0,246.0 449.2,239.0 450.6,236.0 451.8,231.0 454.7,214.0 458.6,203.0 458.9,201.0 458.8,196.0 458.0,191.0 457.4,189.0 455.6,187.0 451.9,184.0 447.0,181.0 441.4,179.0 413.2,174.0 409.7,173.0 408.4,172.0 409.2,169.0 415.6,160.0 420.9,149.0 423.8,144.0 426.5,141.0 436.3,133.0 439.0,130.0 439.9,128.0 440.0,127.0 440.0,121.0Z"/>
<path fill="#0000ff" d="M532.3,121.0 532.3,127.0 532.4,128.0 533.3,130.0 536.0,133.0 545.8,141.0 548.5,144.0 551.4,149.0 556.6,160.0 562.1,168.0 563.0,170.0 563.4,172.0 561.8,173.0 557.4,174.0 530.3,178.0 525.4,179.0 523.0,180.0 520.5,185.0 516.1,189.0 515.5,190.0 514.3,197.0 514.1,200.0 514.6,203.0 518.3,212.0 519.2,215.0 520.0,231.0 520.7,236.0 522.2,239.0 527.2,246.0 528.4,249.0 528.6,305.0 531.2,340.0 531.5,354.0 531.0,364.0 530.0,375.0 525.3,412.0 523.9,426.0 521.0,470.0 519.9,496.0 519.8,524.0 521.1,586.0 521.4,673.0 522.8,728.0 521.2,771.0 520.6,776.0 518.4,786.0 517.7,791.0 514.8,823.0 513.2,834.0 510.9,844.0 506.6,859.0 500.6,876.0 475.8,876.0 468.0,856.0 463.3,838.0 461.1,824.0 457.8,790.0 454.1,775.0 453.3,770.0 452.5,750.0 452.4,726.0 453.8,674.0 454.1,587.0 455.6,524.0 455.6,499.0 454.3,471.0 451.1,426.0 449.6,412.0 444.7,375.0 443.7,364.0 443.2,354.0 443.5,340.0 446.0,314.0 446.6,304.0 446.6,249.0 447.7,246.0 452.3,239.0 453.8,236.0 454.7,231.0 457.0,214.0 459.9,205.0 460.6,202.0 460.5,196.0 459.5,190.0 458.9,189.0 454.5,185.0 452.0,180.0 449.6,179.0 444.7,178.0 417.6,174.0 413.2,173.0 411.6,172.0 412.0,170.0 412.9,168.0 418.4,160.0 423.6,149.0 426.5,144.0 429.2,141.0 439.0,133.0 441.7,130.0 442.6,128.0 442.7,127.0 442.7,121.0Z"/>
<path fill="#000ceb" d="M526.9,121.0 526.9,127.0 527.4,129.0 529.8,132.0 539.9,140.0 542.0,142.0 543.5,144.0 545.9,149.0 549.8,160.0 554.8,169.0 555.5,172.0 554.0,173.0 550.1,174.0 526.0,178.0 521.7,179.0 519.7,180.0 517.8,185.0 514.4,189.0 513.8,190.0 512.8,194.0 512.2,198.0 512.1,200.0 512.6,203.0 515.4,212.0 516.1,215.0 516.2,231.0 516.5,236.0 518.0,239.0 523.2,246.0 524.3,248.0 524.7,250.0 525.2,304.0 526.6,339.0 526.7,354.0 525.5,375.0 521.7,412.0 520.5,426.0 518.3,469.0 517.4,496.0 517.3,529.0 519.5,730.0 518.8,765.0 518.2,774.0 515.6,793.0 513.3,822.0 511.8,834.0 509.8,844.0 506.3,858.0 500.3,876.0 476.1,876.0 468.6,856.0 466.2,846.0 464.4,837.0 462.6,823.0 459.7,790.0 456.2,771.0 455.2,753.0 456.5,673.0 457.1,589.0 458.1,524.0 458.1,500.0 457.1,472.0 454.5,427.0 453.3,413.0 448.9,372.0 448.1,359.0 447.9,348.0 450.0,302.0 450.4,249.0 451.6,246.0 456.5,239.0 457.9,236.0 460.1,213.0 462.6,202.0 462.5,197.0 461.2,190.0 460.6,189.0 457.2,185.0 455.3,180.0 453.3,179.0 449.0,178.0 424.9,174.0 421.0,173.0 419.6,172.0 420.2,169.0 425.2,160.0 429.1,149.0 431.5,144.0 433.0,142.0 435.1,140.0 445.2,132.0 447.6,129.0 448.1,127.0 448.1,121.0Z"/>
<path fill="#0020c8" d="M521.4,121.0 521.4,127.0 521.6,128.0 522.7,130.0 525.7,133.0 535.1,140.0 537.2,142.0 538.6,144.0 540.3,149.0 543.1,160.0 546.6,168.0 547.5,172.0 546.2,173.0 542.8,174.0 521.7,178.0 518.0,179.0 516.3,180.0 515.2,185.0 512.2,190.0 510.8,195.0 510.2,199.0 510.5,203.0 512.4,211.0 512.9,215.0 512.4,236.0 513.8,239.0 519.9,247.0 520.9,250.0 521.6,283.0 521.9,330.0 521.8,360.0 520.9,377.0 517.2,425.0 515.5,470.0 514.8,498.0 515.1,590.0 515.9,660.0 516.5,753.0 515.5,774.0 513.7,794.0 511.6,823.0 510.6,833.0 508.8,844.0 506.0,857.0 500.0,876.0 476.4,876.0 469.3,856.0 466.0,839.0 464.1,823.0 461.6,790.0 458.9,771.0 457.9,752.0 459.0,730.0 459.2,664.0 460.3,567.0 460.6,505.0 459.9,474.0 457.8,426.0 453.8,376.0 452.8,358.0 452.7,344.0 453.6,273.0 454.2,249.0 455.6,246.0 460.8,239.0 462.0,236.0 463.1,213.0 464.5,203.0 464.6,198.0 463.9,194.0 462.8,190.0 459.8,185.0 458.7,180.0 457.0,179.0 453.3,178.0 432.2,174.0 428.8,173.0 427.5,172.0 428.4,168.0 431.9,160.0 434.7,149.0 436.4,144.0 437.8,142.0 439.9,140.0 449.3,133.0 452.3,130.0 453.4,128.0 453.6,127.0 453.6,121.0Z"/>
<path fill="#0034aa" d="M516.0,121.0 516.0,127.0 516.2,128.0 517.3,130.0 520.6,133.0 530.5,140.0 533.2,143.0 535.5,152.0 536.3,160.0 535.9,161.0 533.5,163.0 520.2,169.0 516.9,171.0 516.0,172.0 514.5,175.0 513.4,178.0 512.5,185.0 509.6,193.0 508.2,199.0 508.4,203.0 509.8,215.0 508.2,235.0 508.6,237.0 509.7,239.0 515.4,246.0 516.9,249.0 517.9,266.0 518.4,290.0 518.1,322.0 516.6,365.0 513.9,423.0 512.4,493.0 512.1,595.0 513.3,665.0 512.9,732.0 513.7,746.0 513.8,752.0 512.1,790.0 510.3,820.0 509.1,834.0 507.4,846.0 505.4,857.0 499.7,876.0 476.7,876.0 470.1,857.0 468.9,851.0 467.6,842.0 465.8,824.0 463.5,790.0 461.6,770.0 460.6,751.0 462.3,730.0 461.9,667.0 463.1,597.0 463.1,505.0 462.5,472.0 461.1,425.0 457.5,350.0 456.7,314.0 456.8,285.0 457.2,265.0 458.0,249.0 459.5,246.0 464.8,239.0 466.1,236.0 466.2,213.0 466.6,199.0 465.4,193.0 462.5,185.0 461.6,178.0 460.5,175.0 459.0,172.0 458.1,171.0 454.8,169.0 441.5,163.0 439.1,161.0 438.7,160.0 439.5,152.0 441.8,143.0 444.5,140.0 454.4,133.0 457.7,130.0 458.8,128.0 459.0,127.0 459.0,121.0Z"/>
<path fill="#005073" d="M514.6,121.0 514.6,127.0 515.1,129.0 516.2,131.0 517.9,133.0 525.2,140.0 527.6,143.0 532.3,153.0 533.4,157.0 533.6,160.0 533.3,161.0 531.0,163.0 518.7,169.0 515.7,171.0 514.9,172.0 512.8,177.0 512.1,180.0 511.5,186.0 508.6,194.0 507.6,199.0 508.6,215.0 507.2,235.0 508.0,238.0 513.8,246.0 514.9,248.0 515.4,250.0 516.5,271.0 517.0,294.0 516.6,319.0 512.3,423.0 510.7,494.0 510.5,595.0 511.7,663.0 511.5,732.0 512.2,746.0 512.2,753.0 511.1,790.0 509.8,818.0 508.8,832.0 507.2,844.0 504.7,857.0 499.3,876.0 477.1,876.0 470.5,856.0 467.6,838.0 466.1,820.0 464.5,790.0 462.9,770.0 462.2,752.0 462.3,747.0 463.7,730.0 463.5,665.0 464.6,597.0 464.8,503.0 464.2,474.0 462.7,425.0 459.7,359.0 458.6,327.0 458.2,309.0 458.2,289.0 458.7,267.0 459.7,249.0 461.1,246.0 465.9,239.0 467.1,236.0 467.4,215.0 467.2,199.0 466.3,194.0 463.3,185.0 462.5,178.0 461.5,175.0 460.1,172.0 459.3,171.0 456.3,169.0 444.0,163.0 441.7,161.0 441.4,160.0 441.6,157.0 442.7,153.0 447.4,143.0 449.8,140.0 457.1,133.0 458.8,131.0 459.9,129.0 460.4,127.0 460.4,121.0Z"/>
<path fill="#00645f" d="M513.3,121.0 513.4,128.0 514.2,131.0 515.9,134.0 521.6,142.0 528.6,153.0 530.5,157.0 531.0,160.0 530.7,161.0 528.6,163.0 517.3,169.0 514.5,171.0 513.8,172.0 511.8,177.0 510.7,186.0 507.7,195.0 506.8,200.0 507.4,215.0 506.2,235.0 507.0,238.0 512.2,246.0 513.2,248.0 513.7,250.0 515.1,272.0 515.6,296.0 515.3,314.0 513.5,350.0 511.0,415.0 509.0,495.0 509.0,593.0 510.1,660.0 510.2,732.0 510.6,755.0 510.1,790.0 509.2,818.0 508.4,832.0 507.0,842.0 504.1,857.0 499.0,876.0 477.4,876.0 470.9,855.0 468.9,844.0 467.8,836.0 466.7,820.0 465.6,790.0 464.3,770.0 463.8,752.0 465.0,730.0 465.1,661.0 466.2,594.0 466.5,503.0 465.9,474.0 464.2,422.0 459.8,318.0 459.6,292.0 460.1,269.0 461.4,249.0 462.7,246.0 467.1,239.0 468.1,236.0 468.6,215.0 467.9,199.0 466.9,194.0 464.3,186.0 463.2,177.0 461.2,172.0 460.5,171.0 457.7,169.0 446.4,163.0 444.3,161.0 444.0,160.0 444.5,157.0 446.4,153.0 453.4,142.0 459.1,134.0 460.8,131.0 461.6,128.0 461.7,121.0Z"/>
<path fill="#007832" d="M511.9,121.0 511.9,127.0 512.4,130.0 513.6,133.0 519.0,143.0 522.7,154.0 523.5,160.0 523.3,161.0 522.0,163.0 515.0,169.0 512.6,172.0 510.9,177.0 509.9,186.0 507.2,195.0 506.2,200.0 506.2,215.0 505.2,235.0 505.9,238.0 510.6,246.0 511.5,248.0 512.0,250.0 513.6,273.0 514.2,298.0 513.9,313.0 511.7,349.0 510.3,389.0 507.8,468.0 507.3,497.0 507.4,591.0 508.6,668.0 509.1,747.0 509.0,790.0 508.4,822.0 507.6,835.0 506.4,843.0 503.4,857.0 498.7,876.0 477.7,876.0 476.5,871.0 471.6,855.0 469.2,843.0 468.1,835.0 467.3,820.0 465.4,754.0 465.4,747.0 466.4,730.0 466.7,664.0 467.8,594.0 468.2,503.0 467.5,474.0 465.3,409.0 461.2,314.0 461.0,293.0 461.6,271.0 463.0,250.0 463.8,247.0 468.2,239.0 469.1,236.0 469.8,215.0 468.4,198.0 465.1,186.0 464.5,179.0 463.5,175.0 461.8,171.0 460.0,169.0 453.0,163.0 451.7,161.0 451.5,160.0 452.3,154.0 456.0,143.0 461.4,133.0 462.6,130.0 463.1,127.0 463.1,121.0Z"/>
<path fill="#0a8c14" d="M510.6,121.0 510.6,127.0 511.0,130.0 514.9,139.0 515.9,143.0 516.0,160.0 515.5,163.0 511.8,171.0 510.0,177.0 509.5,180.0 509.2,186.0 505.6,199.0 505.0,208.0 504.2,235.0 504.5,237.0 505.2,239.0 509.0,246.0 510.3,250.0 512.1,274.0 512.8,298.0 512.4,313.0 510.2,345.0 509.5,361.0 506.1,472.0 505.5,499.0 505.8,592.0 507.0,669.0 507.6,770.0 508.0,790.0 507.7,823.0 507.5,832.0 506.5,840.0 498.4,876.0 478.0,876.0 476.7,870.0 472.2,855.0 469.5,842.0 468.5,835.0 468.1,825.0 467.6,790.0 467.0,770.0 466.9,750.0 467.7,730.0 468.3,665.0 469.3,597.0 469.9,504.0 469.3,477.0 466.2,388.0 464.5,345.0 462.7,313.0 462.4,295.0 463.1,272.0 464.7,250.0 465.4,247.0 468.9,240.0 470.0,237.0 471.0,215.0 470.4,208.0 469.2,199.0 465.8,186.0 465.2,178.0 463.2,171.0 459.9,164.0 459.1,161.0 459.1,143.0 460.1,139.0 464.0,130.0 464.4,127.0 464.4,121.0Z"/>
<path fill="#149600" d="M508.4,121.0 508.4,127.0 508.7,130.0 511.9,139.0 512.8,143.0 512.8,161.0 512.3,164.0 509.4,174.0 508.5,179.0 507.7,186.0 504.6,199.0 503.0,235.0 503.6,238.0 507.3,246.0 508.4,250.0 509.5,272.0 510.0,296.0 509.5,313.0 506.9,349.0 505.9,380.0 504.8,422.0 504.3,476.0 503.7,596.0 505.2,668.0 506.1,770.0 506.6,790.0 506.5,816.0 506.2,831.0 505.3,840.0 502.2,858.0 498.1,876.0 478.3,876.0 477.2,871.0 472.7,855.0 469.9,836.0 469.3,820.0 468.5,770.0 468.4,750.0 469.5,730.0 470.1,665.0 471.4,601.0 471.3,510.0 470.6,450.0 469.8,407.0 467.5,346.0 465.4,311.0 465.2,292.0 465.7,270.0 466.6,250.0 467.2,247.0 470.2,240.0 471.2,237.0 471.9,215.0 469.9,197.0 467.3,186.0 465.8,175.0 464.9,171.0 462.7,164.0 462.2,161.0 462.2,143.0 463.1,139.0 466.3,130.0 466.6,127.0 466.6,121.0Z"/>
<path fill="#327a00" d="M506.1,121.0 506.4,130.0 509.0,139.0 509.7,143.0 509.7,161.0 506.6,184.0 503.4,200.0 503.2,215.0 501.9,235.0 502.7,239.0 505.6,246.0 506.4,249.0 507.1,289.0 506.8,310.0 503.9,350.0 502.5,394.0 502.0,424.0 502.7,511.0 501.6,596.0 503.3,665.0 503.9,732.0 504.5,746.0 504.6,770.0 505.3,790.0 505.2,811.0 504.8,831.0 504.0,842.0 501.8,858.0 497.9,876.0 478.5,876.0 477.4,871.0 473.6,857.0 472.1,846.0 471.0,833.0 470.5,806.0 469.9,750.0 471.3,730.0 471.9,665.0 473.6,595.0 472.7,515.0 473.0,428.0 472.4,396.0 470.6,348.0 468.2,308.0 468.1,283.0 468.6,249.0 469.2,246.0 471.9,239.0 472.5,236.0 472.8,215.0 471.2,198.0 468.4,184.0 465.3,161.0 465.3,143.0 466.0,139.0 468.6,130.0 468.9,121.0Z"/>
<path fill="#5a6600" d="M503.9,121.0 504.1,130.0 506.0,139.0 506.6,143.0 506.6,173.0 505.9,181.0 503.3,194.0 502.4,200.0 502.3,215.0 500.7,235.0 501.1,238.0 503.9,246.0 504.5,249.0 504.5,278.0 504.0,307.0 500.9,350.0 499.7,394.0 499.3,427.0 499.5,446.0 501.0,490.0 501.3,510.0 501.0,530.0 499.7,576.0 499.5,598.0 501.5,663.0 502.1,731.0 503.0,747.0 503.1,770.0 503.9,790.0 503.8,806.0 503.5,831.0 502.4,848.0 501.2,859.0 497.6,876.0 478.8,876.0 477.7,871.0 474.4,859.0 473.6,854.0 472.4,836.0 471.8,801.0 471.4,750.0 473.1,730.0 473.7,664.0 475.7,597.0 475.6,576.0 474.3,529.0 474.1,508.0 475.7,431.0 475.4,406.0 474.7,377.0 473.5,344.0 471.1,307.0 470.5,271.0 470.4,249.0 471.0,246.0 473.1,239.0 473.7,236.0 473.7,215.0 472.1,197.0 469.1,181.0 468.4,173.0 468.4,143.0 469.0,139.0 470.9,130.0 471.1,121.0Z"/>
<path fill="#665e00" d="M503.3,121.0 503.5,130.0 505.4,139.0 505.9,143.0 505.8,172.0 505.3,181.0 502.1,200.0 501.9,215.0 500.0,235.0 500.4,238.0 502.5,246.0 503.0,249.0 503.0,262.0 502.3,303.0 500.0,350.0 498.9,396.0 498.6,427.0 499.9,510.0 499.0,579.0 499.0,605.0 501.4,723.0 502.2,747.0 502.6,770.0 503.5,790.0 503.4,814.0 503.2,832.0 502.3,845.0 500.7,859.0 497.4,876.0 479.0,876.0 474.9,859.0 473.8,851.0 472.7,835.0 472.2,806.0 472.1,750.0 473.7,728.0 476.2,603.0 476.2,578.0 475.5,506.0 476.4,432.0 475.8,391.0 474.4,343.0 473.0,307.0 472.0,260.0 472.0,248.0 474.4,236.0 474.1,215.0 472.3,196.0 469.6,180.0 469.2,172.0 469.1,143.0 469.6,139.0 471.5,130.0 471.7,121.0Z"/>
<path fill="#8c4b00" d="M502.7,121.0 502.9,130.0 505.2,143.0 505.1,164.0 504.8,180.0 501.8,200.0 501.5,215.0 499.3,235.0 499.8,239.0 501.4,248.0 501.5,256.0 499.1,350.0 498.1,401.0 497.8,428.0 498.6,507.0 498.4,591.0 498.6,623.0 500.1,702.0 502.0,770.0 503.1,790.0 503.0,830.0 502.4,841.0 500.4,858.0 497.2,876.0 479.2,876.0 474.7,855.0 473.0,837.0 472.7,820.0 472.4,785.0 472.8,751.0 474.2,730.0 474.9,708.0 476.6,618.0 477.2,434.0 476.8,403.0 473.5,255.0 473.5,248.0 475.0,237.0 475.1,229.0 474.5,215.0 473.6,206.0 472.2,193.0 470.2,180.0 469.9,164.0 469.8,143.0 472.1,130.0 472.3,121.0Z"/>
<path fill="#b43200" d="M502.2,121.0 502.4,130.0 504.5,143.0 504.2,180.0 501.6,200.0 501.1,215.0 499.2,229.0 498.7,235.0 499.9,248.0 500.0,253.0 498.6,295.0 498.1,363.0 497.1,418.0 497.1,443.0 497.2,526.0 498.3,673.0 500.4,730.0 501.5,770.0 502.7,790.0 502.8,830.0 502.5,836.0 501.7,844.0 499.3,862.0 496.9,876.0 479.5,876.0 475.2,855.0 473.5,840.0 473.0,831.0 472.9,785.0 473.5,752.0 474.8,730.0 476.8,674.0 478.2,510.0 477.9,423.0 476.4,352.0 476.6,298.0 475.0,252.0 475.8,231.0 474.9,215.0 472.2,190.0 470.8,180.0 470.5,143.0 472.6,130.0 472.8,121.0Z"/>
<path fill="#d71900" d="M501.6,121.0 501.8,130.0 503.9,143.0 503.3,171.0 503.6,180.0 501.3,200.0 500.7,215.0 498.5,229.0 498.0,235.0 499.1,247.0 499.2,252.0 497.2,297.0 497.3,360.0 496.4,427.0 496.0,512.0 497.2,582.0 497.3,677.0 499.8,729.0 500.1,750.0 500.9,770.0 502.3,790.0 502.5,830.0 501.7,841.0 498.2,867.0 496.7,876.0 479.7,876.0 475.7,855.0 473.8,840.0 473.3,831.0 473.3,786.0 473.7,770.0 474.3,750.0 477.4,692.0 477.9,676.0 478.0,584.0 479.3,510.0 478.6,427.0 477.3,355.0 478.0,298.0 475.8,252.0 476.4,231.0 475.3,215.0 471.4,180.0 471.7,171.0 471.1,143.0 473.2,130.0 473.4,121.0Z"/>
<path fill="#ff0000" d="M501.0,121.0 501.2,130.0 503.2,143.0 503.0,160.0 502.5,172.0 503.0,180.0 501.0,200.0 500.3,215.0 497.9,229.0 497.3,235.0 498.3,247.0 498.5,252.0 498.1,262.0 496.2,287.0 495.8,298.0 496.4,362.0 494.9,512.0 496.7,585.0 496.2,676.0 496.8,690.0 499.1,726.0 499.4,750.0 499.8,758.0 501.9,790.0 502.3,830.0 501.6,839.0 499.2,855.0 497.3,871.0 496.4,876.0 480.0,876.0 476.2,855.0 474.0,839.0 473.5,831.0 473.7,787.0 474.2,770.0 476.2,723.0 478.4,690.0 479.0,676.0 478.5,585.0 480.2,528.0 480.5,510.0 478.2,355.0 479.3,296.0 476.6,256.0 476.5,248.0 477.1,237.0 477.0,229.0 475.7,215.0 473.8,200.0 472.0,180.0 472.5,172.0 472.0,160.0 471.8,143.0 473.8,130.0 474.0,121.0Z"/>
<path fill="#ff2300" d="M500.8,121.0 501.0,130.0 502.8,143.0 502.2,172.0 502.6,180.0 500.4,200.0 499.7,215.0 496.4,229.0 495.6,235.0 496.8,247.0 497.0,252.0 496.6,262.0 494.6,286.0 494.0,297.0 494.5,359.0 493.2,424.0 492.7,482.0 492.6,522.0 493.7,585.0 494.3,674.0 494.9,688.0 497.3,724.0 497.6,751.0 498.6,770.0 500.2,790.0 501.2,826.0 501.1,833.0 500.6,840.0 497.5,868.0 496.2,876.0 480.2,876.0 476.6,855.0 474.9,838.0 474.6,827.0 475.5,785.0 476.8,750.0 478.0,722.0 480.4,686.0 481.0,670.0 481.5,588.0 482.8,510.0 481.8,427.0 480.1,355.0 481.2,299.0 480.7,288.0 478.1,255.0 478.0,248.0 478.7,238.0 478.8,232.0 475.3,208.0 472.4,180.0 472.8,172.0 472.2,143.0 474.0,130.0 474.2,121.0Z"/>
<path fill="#ff5000" d="M500.7,121.0 500.8,130.0 502.5,143.0 502.0,171.0 502.2,181.0 500.4,194.0 499.2,215.0 498.2,219.0 494.7,230.0 493.9,235.0 495.3,247.0 495.5,252.0 495.0,262.0 492.8,286.0 492.2,297.0 492.7,358.0 490.8,421.0 490.4,468.0 490.6,565.0 491.1,615.0 492.1,659.0 492.8,680.0 495.5,725.0 496.0,757.0 496.7,770.0 498.5,790.0 500.1,826.0 500.0,834.0 499.5,843.0 497.7,863.0 496.0,876.0 480.4,876.0 477.0,855.0 475.9,838.0 475.7,825.0 479.8,723.0 482.3,681.0 483.1,660.0 484.0,617.0 484.8,559.0 485.1,516.0 485.0,486.0 484.2,423.0 481.9,355.0 482.9,296.0 482.4,287.0 480.3,265.0 479.6,255.0 479.5,248.0 480.4,238.0 480.4,232.0 479.7,228.0 477.1,217.0 474.9,200.0 474.1,189.0 472.8,180.0 473.0,171.0 472.5,143.0 474.2,130.0 474.3,121.0Z"/>
<path fill="#ff7300" d="M500.5,121.0 500.6,130.0 502.2,143.0 501.9,180.0 499.9,193.0 498.6,215.0 497.7,219.0 494.2,230.0 493.5,235.0 494.6,248.0 494.6,253.0 494.1,263.0 492.1,286.0 491.6,296.0 492.0,358.0 489.8,413.0 489.4,430.0 489.3,547.0 489.5,593.0 490.0,620.0 491.9,675.0 495.0,727.0 495.5,756.0 496.2,770.0 498.0,790.0 499.5,826.0 499.0,842.0 497.3,864.0 495.9,876.0 480.5,876.0 477.4,855.0 476.4,838.0 476.2,825.0 480.3,723.0 483.4,673.0 485.1,623.0 485.6,595.0 486.0,539.0 485.9,462.0 485.4,420.0 483.1,372.0 482.6,355.0 483.7,297.0 483.1,287.0 480.5,256.0 480.4,248.0 480.9,233.0 480.2,228.0 477.6,217.0 475.4,200.0 474.8,190.0 473.1,180.0 472.8,143.0 474.4,130.0 474.5,121.0Z"/>
<path fill="#ff9600" d="M500.3,121.0 500.5,130.0 501.9,143.0 501.5,180.0 499.5,192.0 498.0,215.0 497.1,219.0 493.8,230.0 493.1,235.0 493.8,249.0 493.7,256.0 491.3,287.0 490.8,298.0 491.3,343.0 491.2,360.0 488.7,410.0 488.1,428.0 488.2,590.0 488.6,612.0 491.2,674.0 494.4,726.0 495.2,758.0 495.8,770.0 497.5,790.0 499.0,825.0 498.6,841.0 496.9,864.0 495.7,876.0 480.7,876.0 477.9,855.0 476.9,838.0 476.8,824.0 479.6,750.0 481.2,717.0 484.0,674.0 486.7,610.0 487.2,510.0 486.9,429.0 486.3,411.0 483.4,359.0 483.3,344.0 484.4,298.0 483.9,287.0 481.4,257.0 481.3,233.0 480.6,228.0 478.2,217.0 476.0,200.0 475.3,190.0 473.5,180.0 473.1,143.0 474.5,130.0 474.7,121.0Z"/>
<path fill="#ffb900" d="M500.2,121.0 500.3,130.0 501.5,143.0 501.1,180.0 499.0,191.0 497.5,215.0 496.6,219.0 493.6,229.0 492.6,235.0 492.9,250.0 492.8,257.0 490.6,287.0 490.1,297.0 490.7,343.0 490.5,361.0 488.0,409.0 487.5,425.0 487.4,425.0 486.9,409.0 484.1,360.0 484.0,345.0 485.1,298.0 484.6,287.0 482.3,258.0 481.8,233.0 481.1,228.0 478.8,217.0 476.5,200.0 475.9,190.0 473.9,180.0 473.5,143.0 474.7,130.0 474.8,121.0ZM487.6,598.0 488.4,626.0 490.4,672.0 493.8,724.0 494.6,756.0 495.4,770.0 497.0,790.0 498.4,820.0 498.5,830.0 498.2,839.0 496.6,864.0 495.5,876.0 480.9,876.0 478.3,855.0 477.3,836.0 477.4,820.0 480.1,750.0 481.8,718.0 484.5,678.0 486.0,647.0 487.1,620.0 487.6,598.0Z"/>
<path fill="#ffdc00" d="M500.0,121.0 500.1,130.0 501.2,143.0 500.8,179.0 498.4,191.0 496.9,215.0 493.0,230.0 492.2,235.0 491.9,254.0 489.6,290.0 489.4,306.0 490.0,341.0 489.9,358.0 487.5,424.0 487.4,424.0 484.6,355.0 484.7,341.0 485.8,304.0 485.6,291.0 483.2,257.0 482.0,232.0 479.5,218.0 478.1,208.0 477.1,200.0 476.4,189.0 474.4,181.0 474.2,179.0 473.8,143.0 474.9,130.0 475.0,121.0ZM487.6,600.0 488.3,631.0 489.8,674.0 493.3,726.0 494.2,756.0 494.9,770.0 496.5,790.0 497.8,820.0 497.8,838.0 495.3,876.0 481.1,876.0 478.7,855.0 477.8,836.0 477.9,820.0 480.5,750.0 485.5,673.0 487.0,630.0 487.6,600.0Z"/>
<path fill="#fffa00" d="M499.9,121.0 500.0,130.0 501.1,143.0 500.7,179.0 498.2,191.0 496.5,215.0 491.7,234.0 490.3,244.0 488.4,271.0 487.6,294.0 487.5,294.0 486.8,273.0 485.0,248.0 479.8,218.0 477.4,200.0 476.6,189.0 474.5,181.0 474.3,179.0 473.9,143.0 475.0,130.0 475.1,121.0ZM487.6,673.0 488.5,688.0 492.2,725.0 492.7,750.0 493.5,766.0 495.8,790.0 497.3,817.0 497.4,836.0 495.8,869.0 495.2,876.0 481.2,876.0 479.0,855.0 478.2,835.0 478.4,818.0 483.0,726.0 486.7,688.0 487.6,673.0Z"/>
<path fill="#ffff28" d="M499.7,121.0 499.8,130.0 500.9,143.0 500.9,173.0 500.5,180.0 499.1,185.0 498.0,191.0 495.9,216.0 494.3,223.0 488.3,244.0 487.5,249.0 487.4,249.0 486.7,245.0 483.5,235.0 481.1,223.0 477.8,200.0 476.8,189.0 474.5,180.0 474.1,173.0 474.1,143.0 475.2,130.0 475.3,121.0ZM487.6,674.0 488.3,688.0 491.2,726.0 491.5,750.0 492.4,768.0 495.2,790.0 496.9,819.0 497.1,835.0 496.0,855.0 495.6,871.0 495.0,876.0 481.4,876.0 479.4,855.0 478.7,836.0 478.8,820.0 480.6,788.0 482.1,771.0 484.2,723.0 486.9,689.0 487.6,674.0Z"/>
<path fill="#ffff4b" d="M499.6,121.0 499.7,130.0 500.8,143.0 500.8,173.0 500.4,180.0 498.9,185.0 497.6,192.0 496.7,200.0 495.7,215.0 494.3,221.0 490.2,235.0 488.1,244.0 487.5,249.0 487.5,249.0 486.9,245.0 484.2,235.0 481.0,220.0 478.1,200.0 476.9,189.0 476.1,185.0 474.6,180.0 474.2,173.0 474.2,143.0 475.3,130.0 475.4,121.0ZM487.6,675.0 488.1,689.0 490.2,726.0 490.3,750.0 491.0,766.0 491.7,773.0 494.5,790.0 496.6,821.0 496.7,835.0 495.7,855.0 495.4,872.0 494.9,876.0 481.5,876.0 479.7,855.0 479.1,835.0 479.2,821.0 479.8,808.0 481.3,788.0 483.2,771.0 485.2,722.0 487.1,689.0 487.6,675.0Z"/>
<path fill="#ffff73" d="M499.4,121.0 499.5,129.0 500.7,144.0 500.7,173.0 500.3,180.0 498.6,185.0 497.4,192.0 496.4,200.0 495.7,212.0 495.1,216.0 493.5,220.0 488.8,229.0 487.3,234.0 487.2,234.0 486.1,229.0 482.1,220.0 481.0,217.0 479.6,209.0 477.0,188.0 476.4,185.0 474.7,180.0 474.3,173.0 474.3,144.0 475.5,129.0 475.6,121.0ZM487.6,733.0 488.5,753.0 490.6,770.0 493.8,790.0 496.0,818.0 496.3,833.0 495.3,855.0 495.3,872.0 494.8,876.0 481.6,876.0 480.9,870.0 480.1,855.0 479.5,834.0 479.7,819.0 482.0,787.0 485.6,756.0 487.5,733.0Z"/>
<path fill="#ffff9b" d="M499.3,121.0 499.4,130.0 500.6,144.0 500.6,173.0 500.2,180.0 498.4,185.0 497.0,193.0 496.1,200.0 495.0,215.0 493.7,219.0 488.7,229.0 487.3,234.0 487.2,234.0 486.1,229.0 481.4,217.0 480.2,210.0 477.0,187.0 474.8,180.0 474.4,173.0 474.4,144.0 475.6,130.0 475.7,121.0ZM487.2,751.0 487.9,758.0 493.0,789.0 495.5,817.0 495.9,831.0 495.0,855.0 495.2,872.0 494.7,876.0 481.7,876.0 481.2,872.0 480.4,855.0 479.9,834.0 480.1,820.0 482.9,785.0 484.8,769.0 486.7,757.0 487.2,751.0Z"/>
<path fill="#ffffc8" d="M499.1,121.0 499.2,130.0 500.4,144.0 500.6,173.0 500.1,180.0 498.2,185.0 496.5,195.0 495.7,200.0 494.6,215.0 493.3,219.0 488.7,229.0 487.3,234.0 487.2,234.0 486.2,229.0 481.8,217.0 477.2,187.0 476.4,184.0 475.1,181.0 474.8,179.0 474.4,172.0 474.6,144.0 475.8,130.0 475.9,121.0ZM487.2,752.0 487.7,758.0 489.3,770.0 492.5,790.0 495.2,819.0 495.5,831.0 494.6,855.0 495.1,872.0 494.5,876.0 481.9,876.0 481.3,872.0 480.8,855.0 480.3,833.0 480.4,822.0 481.8,803.0 483.6,785.0 486.8,758.0 487.2,752.0Z"/>
<path fill="#fffff0" d="M499.0,121.0 499.0,129.0 500.1,141.0 500.4,147.0 500.5,172.0 500.1,179.0 499.8,181.0 498.0,185.0 495.9,197.0 494.2,215.0 493.0,219.0 488.6,229.0 487.3,234.0 487.2,234.0 486.3,229.0 482.2,217.0 477.2,186.0 476.7,184.0 475.2,181.0 474.9,179.0 474.5,172.0 474.6,147.0 474.9,141.0 476.0,129.0 476.0,121.0ZM487.3,753.0 488.6,770.0 491.8,790.0 494.8,820.0 495.1,831.0 494.3,855.0 495.0,872.0 494.4,876.0 482.0,876.0 481.5,873.0 481.3,870.0 480.7,834.0 480.8,823.0 482.0,807.0 485.9,772.0 487.2,753.0Z"/>
</g>
<rect x="371.59999999999997" y="121.2" width="231.2" height="2.1" fill="#f2f2f2"/>
<rect x="383.4" y="875.7" width="219.8" height="1" fill="#444"/>
<rect x="644.8" y="118.0" width="236.0" height="760.4" rx="1" fill="#000"/>
<clipPath id="cc"><rect x="647.0" y="121.0" width="231.60000000000002" height="755.4"/></clipPath>
<g clip-path="url(#cc)"><rect x="647.0" y="121.0" width="231.60000000000002" height="755.4" fill="#000"/>
<path fill="#040422" d="M888.4,121.0 888.4,127.0 887.5,130.0 885.3,133.0 878.7,140.0 876.8,143.0 876.4,145.0 876.3,166.0 875.5,168.0 874.2,170.0 868.0,177.0 866.1,180.0 865.6,182.0 865.0,193.0 865.0,202.0 865.8,208.0 871.1,228.0 875.7,242.0 877.4,248.0 881.0,268.0 882.5,282.0 882.6,286.0 882.0,301.0 882.4,320.0 881.4,400.0 880.2,421.0 877.4,451.0 876.0,461.0 874.1,472.0 864.0,519.0 861.0,539.0 857.5,569.0 853.5,610.0 849.0,669.0 846.8,692.0 838.3,756.0 837.1,762.0 828.2,792.0 823.3,812.0 820.2,827.0 817.7,845.0 816.4,852.0 814.4,858.0 806.7,876.0 718.0,876.0 715.0,866.0 710.9,854.0 709.3,846.0 706.8,826.0 704.7,816.0 695.5,780.0 692.6,770.0 689.5,761.0 687.9,753.0 683.2,720.0 678.3,689.0 676.3,669.0 672.5,623.0 670.0,597.0 666.6,564.0 663.4,537.0 660.0,515.0 650.7,470.0 648.1,452.0 644.8,418.0 643.6,395.0 644.4,320.0 644.0,301.0 644.8,280.0 646.1,267.0 649.4,248.0 651.1,242.0 655.7,228.0 661.0,208.0 661.8,202.0 661.8,194.0 661.2,182.0 660.7,180.0 658.8,177.0 652.6,170.0 651.3,168.0 650.5,166.0 650.4,145.0 650.0,143.0 648.1,140.0 641.5,133.0 639.3,130.0 638.4,127.0 638.4,121.0Z"/>
<path fill="#000044" d="M882.2,121.0 882.2,127.0 881.5,130.0 879.9,133.0 874.2,141.0 872.9,144.0 872.2,149.0 871.4,162.0 870.9,166.0 869.9,168.0 868.6,170.0 861.8,178.0 860.4,181.0 859.6,193.0 859.6,202.0 860.5,209.0 865.1,227.0 870.8,242.0 872.6,248.0 875.9,267.0 877.4,282.0 877.5,286.0 877.0,301.0 877.6,320.0 877.5,327.0 875.5,395.0 874.3,416.0 871.8,443.0 870.4,455.0 868.4,468.0 858.2,522.0 854.8,548.0 851.5,579.0 848.8,610.0 845.3,670.0 843.5,693.0 835.6,754.0 834.3,761.0 830.5,774.0 825.1,796.0 818.2,820.0 816.9,828.0 815.3,846.0 814.2,853.0 812.8,857.0 804.4,876.0 720.3,876.0 717.3,866.0 712.7,854.0 711.7,847.0 710.4,829.0 709.4,822.0 707.4,814.0 701.7,796.0 695.9,771.0 692.3,760.0 689.2,742.0 686.2,720.0 681.6,690.0 679.9,669.0 676.1,611.0 673.3,580.0 670.0,549.0 665.7,517.0 656.0,463.0 652.0,428.0 650.3,408.0 649.3,390.0 649.0,301.0 650.0,278.0 651.4,265.0 653.9,249.0 655.7,243.0 661.4,228.0 665.4,213.0 667.1,204.0 667.2,195.0 666.4,181.0 665.0,178.0 658.2,170.0 656.9,168.0 655.9,166.0 655.4,162.0 654.6,149.0 653.9,144.0 652.6,141.0 646.9,133.0 645.3,130.0 644.6,127.0 644.6,121.0Z"/>
<path fill="#000069" d="M876.2,121.0 876.0,129.0 874.6,133.0 870.4,141.0 869.2,144.0 868.2,149.0 866.6,161.0 865.5,166.0 863.7,169.0 857.0,177.0 855.7,179.0 855.0,181.0 854.1,196.0 854.3,204.0 855.8,213.0 859.7,228.0 866.0,243.0 868.1,249.0 871.6,267.0 873.7,284.0 874.0,301.0 875.4,319.0 875.3,327.0 873.9,360.0 871.1,402.0 869.1,419.0 863.9,455.0 853.2,520.0 848.7,557.0 845.9,585.0 844.0,610.0 841.7,671.0 840.3,694.0 837.2,720.0 833.0,751.0 831.4,760.0 827.9,773.0 823.1,796.0 821.2,802.0 816.2,815.0 814.5,821.0 813.8,827.0 813.0,846.0 812.4,853.0 811.0,857.0 806.8,865.0 802.0,876.0 722.7,876.0 719.7,866.0 715.6,857.0 714.6,854.0 714.0,847.0 713.4,827.0 712.9,822.0 710.9,815.0 705.7,802.0 703.7,796.0 698.8,771.0 695.2,759.0 692.2,742.0 689.2,720.0 686.0,700.0 684.8,690.0 683.9,677.0 680.6,607.0 679.0,587.0 676.7,564.0 671.1,517.0 656.7,423.0 653.7,399.0 653.0,390.0 652.0,364.0 651.3,328.0 651.4,315.0 652.0,301.0 653.9,279.0 655.7,265.0 658.5,250.0 660.4,244.0 666.0,231.0 667.7,226.0 671.8,209.0 672.6,203.0 672.7,198.0 671.8,181.0 671.1,179.0 669.8,177.0 663.1,169.0 661.3,166.0 660.2,161.0 658.6,149.0 657.6,144.0 656.4,141.0 652.2,133.0 650.8,129.0 650.6,121.0Z"/>
<path fill="#000091" d="M870.4,121.0 870.4,128.0 869.7,132.0 860.6,159.0 857.3,167.0 851.2,176.0 849.3,180.0 848.3,187.0 847.7,197.0 847.8,203.0 848.6,209.0 853.1,226.0 855.2,231.0 861.4,243.0 863.1,248.0 864.6,258.0 865.8,271.0 866.8,286.0 867.0,301.0 867.8,317.0 867.8,325.0 866.5,355.0 862.9,404.0 857.2,452.0 847.3,515.0 845.5,529.0 843.7,547.0 840.9,578.0 838.5,610.0 835.8,671.0 834.4,694.0 828.2,757.0 827.3,762.0 824.4,773.0 820.2,796.0 818.1,802.0 812.6,815.0 811.0,821.0 810.6,824.0 810.6,852.0 810.3,854.0 809.1,857.0 804.5,865.0 799.7,876.0 725.0,876.0 722.0,866.0 717.4,857.0 716.4,854.0 716.2,852.0 716.6,825.0 716.2,821.0 714.5,815.0 708.8,802.0 706.7,796.0 702.3,771.0 699.3,761.0 698.1,754.0 694.5,720.0 690.8,690.0 686.0,606.0 683.6,575.0 680.7,544.0 677.5,516.0 669.1,459.0 664.0,420.0 661.8,400.0 661.0,390.0 659.4,354.0 658.9,336.0 658.9,315.0 659.0,301.0 660.4,286.0 661.9,262.0 663.1,251.0 663.9,247.0 665.9,242.0 673.0,228.0 676.5,216.0 678.7,206.0 679.1,198.0 678.5,187.0 677.5,180.0 675.6,176.0 669.5,167.0 666.2,159.0 657.1,132.0 656.4,128.0 656.4,121.0Z"/>
<path fill="#0000b2" d="M864.2,121.0 864.2,128.0 863.8,133.0 861.1,146.0 858.5,152.0 851.9,163.0 845.8,174.0 843.9,178.0 843.0,181.0 842.4,185.0 841.2,198.0 841.3,203.0 842.2,209.0 843.7,215.0 847.1,226.0 849.6,231.0 856.8,243.0 858.3,247.0 858.8,250.0 859.9,301.0 860.9,315.0 861.1,322.0 859.8,352.0 856.2,400.0 854.4,418.0 850.3,451.0 841.3,511.0 838.3,538.0 836.0,567.0 833.1,610.0 829.3,680.0 824.1,760.0 821.2,772.0 818.3,790.0 816.9,797.0 815.4,802.0 810.5,815.0 809.0,821.0 808.7,825.0 808.3,852.0 808.0,854.0 806.8,857.0 802.1,865.0 797.4,876.0 727.4,876.0 724.3,866.0 719.7,857.0 718.7,854.0 718.5,825.0 718.1,821.0 716.5,815.0 711.5,802.0 709.6,796.0 705.8,771.0 703.1,762.0 702.6,759.0 699.7,720.0 696.6,689.0 690.0,585.0 686.1,535.0 683.6,512.0 676.0,458.0 670.6,416.0 668.5,396.0 666.4,357.0 665.7,328.0 666.1,301.0 667.5,286.0 668.1,249.0 668.8,246.0 670.0,243.0 677.2,231.0 679.7,226.0 683.1,215.0 684.6,209.0 685.5,203.0 685.6,198.0 684.4,185.0 683.8,181.0 682.9,178.0 681.0,174.0 674.9,163.0 668.3,152.0 665.7,146.0 663.0,133.0 662.6,128.0 662.6,121.0Z"/>
<path fill="#0000e4" d="M857.4,121.0 857.1,135.0 856.2,144.0 855.6,147.0 853.1,152.0 845.1,163.0 840.0,173.0 838.4,177.0 837.6,180.0 836.9,188.0 836.6,203.0 837.2,208.0 838.4,214.0 841.9,227.0 843.6,231.0 849.6,243.0 851.0,247.0 851.6,250.0 852.8,264.0 854.0,286.0 854.0,301.0 854.9,317.0 854.9,326.0 853.3,355.0 848.4,410.0 843.0,455.0 835.1,511.0 832.6,535.0 829.0,592.0 825.2,681.0 820.9,758.0 820.4,762.0 818.1,773.0 814.6,796.0 813.0,802.0 808.6,815.0 807.2,821.0 806.8,826.0 805.9,853.0 804.5,857.0 799.8,865.0 795.0,876.0 729.7,876.0 726.7,866.0 722.1,857.0 721.0,854.0 720.7,850.0 720.5,827.0 720.1,822.0 718.5,815.0 713.9,802.0 712.2,796.0 708.8,771.0 706.5,762.0 706.0,759.0 703.5,720.0 700.7,690.0 695.1,581.0 691.4,528.0 688.9,504.0 677.6,417.0 674.9,391.0 672.4,351.0 671.8,326.0 672.0,301.0 673.2,286.0 674.7,256.0 675.3,249.0 676.1,246.0 678.1,241.0 684.5,228.0 687.6,217.0 689.9,206.0 690.3,202.0 690.3,196.0 689.5,182.0 689.0,179.0 688.0,176.0 682.3,164.0 673.1,151.0 671.5,148.0 670.9,146.0 669.6,134.0 669.4,121.0Z"/>
<path fill="#0000ff" d="M852.0,121.0 851.7,135.0 850.8,145.0 850.3,147.0 848.1,151.0 840.4,160.0 837.7,164.0 833.4,174.0 832.2,178.0 831.8,181.0 831.8,202.0 832.8,211.0 836.6,228.0 842.1,242.0 843.8,247.0 846.4,264.0 847.5,275.0 848.2,286.0 848.0,301.0 848.8,317.0 848.8,325.0 847.3,353.0 843.0,402.0 836.3,455.0 829.9,502.0 827.0,530.0 824.2,583.0 822.8,618.0 820.9,684.0 817.4,759.0 815.1,773.0 812.0,796.0 810.6,802.0 806.4,816.0 805.2,822.0 803.6,853.0 802.1,857.0 797.5,865.0 792.7,876.0 732.0,876.0 729.0,866.0 724.4,857.0 723.1,853.0 722.4,828.0 722.0,822.0 720.7,816.0 716.3,802.0 714.8,796.0 711.6,770.0 709.4,759.0 708.2,742.0 707.2,720.0 704.7,690.0 700.5,581.0 698.9,551.0 697.2,525.0 693.9,493.0 682.0,401.0 680.9,390.0 678.8,357.0 677.9,332.0 678.0,301.0 680.1,269.0 681.4,257.0 682.8,248.0 684.3,243.0 690.2,228.0 694.0,211.0 695.0,202.0 695.0,181.0 694.6,178.0 693.4,174.0 689.1,164.0 686.4,160.0 678.7,151.0 676.5,147.0 676.0,145.0 675.1,135.0 674.8,121.0Z"/>
<path fill="#000ceb" d="M845.9,121.0 845.8,129.0 844.3,136.0 840.0,148.0 833.9,160.0 832.1,164.0 828.4,175.0 827.3,181.0 827.8,201.0 828.8,210.0 832.5,228.0 838.1,248.0 841.6,266.0 843.0,276.0 843.7,286.0 842.7,301.0 843.4,323.0 842.9,336.0 841.8,351.0 835.6,415.0 830.8,456.0 823.0,508.0 820.8,530.0 819.2,562.0 818.0,600.0 816.1,720.0 814.5,761.0 809.5,796.0 804.6,817.0 803.4,823.0 800.4,852.0 798.6,858.0 791.3,876.0 733.4,876.0 730.6,866.0 727.5,857.0 726.5,853.0 725.7,846.0 723.9,824.0 722.5,817.0 717.3,796.0 713.9,770.0 712.2,760.0 709.0,690.0 706.4,586.0 705.1,554.0 703.6,526.0 701.5,505.0 695.0,459.0 688.7,407.0 687.0,390.0 683.8,344.0 683.3,330.0 683.3,315.0 683.5,284.0 684.0,276.0 685.4,266.0 688.5,249.0 694.3,228.0 698.0,210.0 699.0,201.0 699.5,181.0 698.4,175.0 694.7,164.0 692.9,160.0 686.8,148.0 682.5,136.0 681.0,129.0 680.9,121.0Z"/>
<path fill="#0020c8" d="M841.5,121.0 841.4,129.0 840.2,134.0 835.0,147.0 828.8,159.0 827.0,163.0 824.0,173.0 822.8,180.0 823.1,192.0 824.6,208.0 828.2,227.0 832.9,246.0 836.9,266.0 838.6,277.0 839.1,286.0 835.7,316.0 833.6,340.0 830.0,390.0 827.6,430.0 826.1,451.0 823.8,468.0 816.7,509.0 815.3,520.0 814.6,529.0 813.2,566.0 812.4,603.0 812.1,690.0 813.0,721.0 811.7,763.0 808.0,790.0 801.7,823.0 797.1,852.0 793.9,866.0 789.9,876.0 734.8,876.0 732.8,869.0 731.3,862.0 725.8,825.0 719.7,795.0 715.0,761.0 713.4,723.0 713.1,658.0 712.2,589.0 711.3,558.0 710.0,528.0 709.3,519.0 707.9,508.0 701.6,469.0 699.4,452.0 697.6,430.0 695.0,390.0 691.7,324.0 691.2,318.0 688.7,301.0 688.1,292.0 688.3,280.0 689.9,267.0 693.4,248.0 698.6,227.0 702.3,207.0 703.7,192.0 704.0,180.0 702.8,173.0 699.8,163.0 698.0,159.0 691.8,147.0 686.6,134.0 685.4,129.0 685.3,121.0Z"/>
<path fill="#0034aa" d="M837.1,121.0 837.1,128.0 836.3,132.0 834.7,136.0 829.6,147.0 823.6,158.0 821.8,162.0 819.3,172.0 818.3,180.0 818.6,190.0 820.5,207.0 824.2,227.0 833.0,270.0 834.2,279.0 834.6,286.0 834.0,291.0 832.0,301.0 828.4,337.0 824.5,390.0 822.1,432.0 820.6,452.0 818.1,469.0 810.6,508.0 809.1,519.0 808.4,528.0 807.2,571.0 806.9,610.0 807.8,690.0 809.9,720.0 809.2,741.0 809.2,761.0 808.9,766.0 807.5,778.0 800.3,821.0 799.0,828.0 794.3,848.0 792.3,866.0 791.2,870.0 788.5,876.0 736.2,876.0 734.9,872.0 733.9,868.0 733.1,852.0 732.6,848.0 728.0,827.0 723.6,803.0 719.7,779.0 717.7,762.0 716.5,718.0 717.6,692.0 717.9,600.0 717.3,565.0 716.2,527.0 715.5,518.0 714.2,508.0 707.1,469.0 704.9,453.0 703.2,432.0 700.5,390.0 698.4,345.0 697.0,323.0 692.6,289.0 692.8,280.0 694.1,270.0 698.6,246.0 702.8,226.0 706.4,206.0 708.2,190.0 708.5,180.0 707.5,172.0 705.0,162.0 703.2,158.0 697.2,147.0 692.1,136.0 690.5,132.0 689.7,128.0 689.7,121.0Z"/>
<path fill="#005073" d="M833.0,121.0 832.9,129.0 831.5,134.0 825.4,147.0 817.8,159.0 816.6,162.0 816.2,164.0 816.3,187.0 817.2,204.0 818.5,212.0 829.6,271.0 830.7,279.0 831.1,286.0 830.4,292.0 825.6,317.0 822.5,343.0 818.5,390.0 815.2,453.0 813.4,469.0 808.4,507.0 806.7,527.0 805.6,571.0 805.2,610.0 805.8,690.0 808.2,720.0 807.3,740.0 807.4,763.0 804.5,786.0 798.6,825.0 793.7,848.0 790.7,866.0 789.1,871.0 787.0,876.0 737.7,876.0 735.6,868.0 733.5,850.0 729.1,828.0 725.2,805.0 723.4,793.0 719.3,761.0 719.0,739.0 718.2,718.0 719.6,692.0 719.5,600.0 719.0,564.0 717.8,524.0 716.4,506.0 711.8,469.0 710.2,453.0 704.8,358.0 702.8,332.0 701.4,319.0 697.5,301.0 696.1,289.0 696.3,280.0 697.4,271.0 709.6,204.0 710.5,187.0 710.6,164.0 710.2,162.0 709.0,159.0 701.4,147.0 695.3,134.0 693.9,129.0 693.8,121.0Z"/>
<path fill="#00645f" d="M829.0,121.0 829.0,128.0 828.6,131.0 827.6,135.0 825.7,140.0 823.2,146.0 822.1,148.0 815.0,157.0 812.9,160.0 811.7,163.0 811.4,165.0 811.8,169.0 813.6,177.0 814.1,181.0 814.1,201.0 814.5,206.0 818.0,224.0 822.6,252.0 826.2,271.0 827.2,279.0 827.6,286.0 827.1,291.0 825.0,301.0 822.1,318.0 819.7,337.0 817.5,358.0 814.5,390.0 812.2,419.0 806.8,493.0 805.2,519.0 804.0,565.0 803.6,610.0 803.9,691.0 804.4,698.0 806.1,713.0 806.5,720.0 805.5,741.0 805.7,762.0 800.6,804.0 797.2,827.0 789.9,863.0 788.5,868.0 785.6,876.0 739.2,876.0 736.3,863.0 727.8,814.0 725.0,795.0 722.6,770.0 721.0,761.0 720.9,740.0 719.9,719.0 721.6,692.0 721.2,600.0 720.5,558.0 719.2,511.0 715.4,450.0 710.5,390.0 706.8,339.0 704.9,320.0 701.0,301.0 699.6,289.0 699.8,280.0 700.9,271.0 708.8,224.0 712.3,206.0 712.7,201.0 712.7,181.0 713.2,177.0 715.0,169.0 715.4,165.0 715.1,163.0 713.9,160.0 711.8,157.0 704.7,148.0 703.6,146.0 701.1,140.0 699.2,135.0 698.2,131.0 697.8,128.0 697.8,121.0Z"/>
<path fill="#007832" d="M825.6,121.0 825.6,128.0 825.3,131.0 824.4,135.0 822.4,141.0 820.5,146.0 819.5,148.0 811.2,160.0 810.0,163.0 809.8,165.0 810.0,169.0 812.1,181.0 812.8,200.0 813.4,207.0 819.7,251.0 824.3,275.0 825.0,281.0 825.2,286.0 824.5,292.0 818.8,319.0 816.0,339.0 813.5,362.0 811.0,390.0 809.4,413.0 803.8,510.0 803.0,530.0 802.2,580.0 801.8,674.0 802.0,693.0 804.3,713.0 804.8,719.0 803.6,741.0 804.1,761.0 802.3,773.0 798.8,809.0 794.9,835.0 791.1,854.0 787.6,866.0 784.1,876.0 740.6,876.0 735.6,854.0 731.8,833.0 726.7,797.0 724.5,770.0 722.8,761.0 722.8,740.0 721.6,719.0 721.8,713.0 723.5,693.0 723.3,651.0 722.2,559.0 721.3,519.0 720.4,494.0 717.3,435.0 710.7,343.0 708.1,320.0 703.5,301.0 701.9,288.0 702.1,282.0 702.8,275.0 707.0,252.0 713.4,207.0 714.0,200.0 714.7,181.0 716.8,169.0 717.0,165.0 716.8,163.0 715.6,160.0 707.3,148.0 706.3,146.0 704.4,141.0 702.4,135.0 701.5,131.0 701.2,128.0 701.1,121.0Z"/>
<path fill="#0a8c14" d="M822.3,121.0 822.3,128.0 821.8,132.0 820.7,137.0 818.2,145.0 816.4,149.0 809.9,159.0 808.6,162.0 808.1,165.0 808.4,170.0 810.1,182.0 811.9,205.0 816.5,248.0 817.8,256.0 821.8,275.0 822.6,281.0 822.9,286.0 821.7,294.0 815.7,318.0 813.5,333.0 811.6,349.0 808.0,390.0 806.6,410.0 805.0,437.0 803.1,478.0 801.2,538.0 799.9,671.0 800.0,693.0 802.6,713.0 803.1,719.0 802.9,725.0 801.7,741.0 802.4,761.0 800.6,771.0 799.1,793.0 797.3,811.0 795.6,825.0 793.3,840.0 790.6,853.0 782.6,876.0 742.1,876.0 740.0,866.0 736.1,853.0 733.5,839.0 728.3,799.0 726.5,770.0 724.5,761.0 724.7,740.0 723.5,725.0 723.3,718.0 725.5,693.0 725.3,666.0 723.1,517.0 721.0,450.0 715.0,357.0 713.1,334.0 711.2,319.0 706.0,301.0 704.7,293.0 704.3,288.0 704.4,282.0 705.1,276.0 709.2,255.0 710.5,246.0 714.9,205.0 716.7,182.0 718.4,170.0 718.7,165.0 718.2,162.0 716.9,159.0 710.4,149.0 708.6,145.0 706.1,137.0 705.0,132.0 704.5,128.0 704.5,121.0Z"/>
<path fill="#149600" d="M819.6,121.0 819.5,128.0 818.8,131.0 817.6,134.0 812.3,144.0 807.7,157.0 806.7,161.0 806.4,164.0 806.5,169.0 807.8,181.0 809.4,206.0 814.0,251.0 817.0,274.0 817.7,286.0 817.1,291.0 814.8,301.0 811.5,318.0 808.7,338.0 806.3,359.0 803.5,390.0 802.6,404.0 801.0,432.0 799.6,465.0 797.6,530.0 796.7,608.0 796.9,690.0 797.3,697.0 799.3,719.0 798.5,741.0 799.0,762.0 797.9,772.0 795.8,807.0 793.9,825.0 792.4,836.0 789.3,853.0 781.9,876.0 742.9,876.0 740.8,866.0 737.4,853.0 734.3,834.0 730.7,802.0 730.0,793.0 729.1,770.0 727.8,761.0 727.8,740.0 727.0,719.0 728.5,692.0 728.0,597.0 726.6,504.0 725.1,450.0 723.1,412.0 719.8,363.0 718.0,341.0 715.6,320.0 711.2,301.0 709.5,288.0 710.1,274.0 712.7,252.0 717.5,204.0 719.0,181.0 720.3,169.0 720.4,164.0 720.1,161.0 719.1,157.0 714.5,144.0 709.2,134.0 708.0,131.0 707.3,128.0 707.2,121.0Z"/>
<path fill="#327a00" d="M816.8,121.0 816.8,127.0 816.3,130.0 814.8,133.0 809.4,141.0 807.7,145.0 805.5,155.0 804.6,163.0 804.7,170.0 806.7,203.0 810.9,248.0 812.1,270.0 812.5,286.0 811.9,291.0 809.6,301.0 807.9,313.0 803.7,345.0 801.0,368.0 798.9,391.0 796.5,440.0 794.2,519.0 793.2,591.0 793.3,633.0 793.9,690.0 795.6,720.0 795.4,742.0 795.7,763.0 794.2,800.0 792.3,825.0 789.3,846.0 787.0,857.0 781.1,876.0 743.6,876.0 738.9,854.0 736.7,840.0 733.9,815.0 732.4,795.0 731.7,770.0 731.1,760.0 730.7,718.0 731.5,692.0 731.5,591.0 730.1,492.0 729.3,450.0 727.3,409.0 725.1,375.0 723.4,355.0 719.8,320.0 716.4,301.0 714.7,288.0 714.9,271.0 715.9,249.0 720.1,203.0 722.1,170.0 722.2,163.0 721.3,155.0 719.1,145.0 717.4,141.0 712.0,133.0 710.5,130.0 710.0,127.0 710.0,121.0Z"/>
<path fill="#5a6600" d="M814.1,121.0 814.1,127.0 813.6,130.0 812.2,133.0 807.1,141.0 805.8,144.0 803.6,155.0 802.8,163.0 802.9,172.0 804.2,203.0 808.0,246.0 808.0,264.0 807.2,287.0 804.4,301.0 802.8,320.0 797.1,364.0 795.0,384.0 793.5,409.0 792.3,439.0 790.3,530.0 789.6,609.0 790.9,690.0 791.9,720.0 792.3,760.0 792.9,770.0 792.6,783.0 791.4,814.0 790.6,825.0 789.4,836.0 786.1,856.0 783.6,866.0 780.4,876.0 744.3,876.0 740.5,856.0 737.8,837.0 735.7,814.0 734.6,795.0 734.2,741.0 735.2,633.0 735.2,600.0 733.7,468.0 732.7,431.0 731.4,405.0 729.4,374.0 724.0,320.0 720.1,289.0 718.9,264.0 718.8,246.0 722.6,203.0 723.9,172.0 724.0,163.0 723.2,155.0 721.0,144.0 719.7,141.0 714.6,133.0 713.2,130.0 712.7,127.0 712.7,121.0Z"/>
<path fill="#665e00" d="M812.1,121.0 812.1,127.0 811.8,129.0 810.6,132.0 805.3,140.0 803.8,143.0 803.3,145.0 802.3,155.0 802.0,168.0 803.1,199.0 806.0,246.0 805.7,265.0 804.5,286.0 802.0,301.0 794.1,368.0 792.4,387.0 791.6,402.0 790.5,434.0 788.9,503.0 787.9,601.0 788.1,639.0 789.0,690.0 790.4,720.0 790.8,760.0 791.4,770.0 791.0,801.0 789.7,825.0 787.4,844.0 784.8,858.0 782.8,866.0 779.6,876.0 745.1,876.0 741.1,855.0 738.7,838.0 736.7,815.0 735.8,798.0 736.0,761.0 735.7,739.0 736.7,665.0 736.9,616.0 735.8,490.0 735.2,446.0 733.8,409.0 731.7,370.0 726.9,320.0 724.0,301.0 723.3,294.0 721.4,268.0 720.8,253.0 721.0,242.0 723.7,200.0 724.8,169.0 724.7,160.0 724.2,152.0 723.3,144.0 721.5,140.0 716.8,133.0 715.3,130.0 714.7,127.0 714.7,121.0Z"/>
<path fill="#8c4b00" d="M810.1,121.0 809.9,129.0 808.7,132.0 804.0,140.0 802.7,143.0 801.7,152.0 801.2,168.0 803.9,240.0 803.8,259.0 801.6,286.0 797.4,317.0 792.8,355.0 791.0,373.0 789.8,390.0 788.8,423.0 786.9,515.0 786.2,605.0 787.1,690.0 788.9,720.0 789.3,760.0 789.9,770.0 789.9,802.0 788.7,826.0 786.4,845.0 784.0,858.0 781.9,866.0 778.9,876.0 745.9,876.0 741.9,855.0 739.6,838.0 737.7,815.0 736.9,798.0 737.5,761.0 737.3,734.0 738.4,677.0 738.6,603.0 737.3,463.0 735.8,404.0 734.5,374.0 732.7,350.0 729.7,320.0 726.3,301.0 725.6,286.0 723.5,265.0 722.9,255.0 723.0,239.0 725.6,168.0 725.3,154.0 724.5,145.0 724.1,143.0 722.8,140.0 718.1,132.0 716.9,129.0 716.7,121.0Z"/>
<path fill="#b43200" d="M808.1,121.0 808.1,127.0 807.6,130.0 806.5,133.0 802.0,142.0 801.4,144.0 801.0,149.0 800.3,166.0 802.0,221.0 801.8,256.0 797.1,303.0 794.4,318.0 790.8,348.0 788.7,370.0 787.5,390.0 784.9,526.0 784.5,610.0 785.2,690.0 787.4,720.0 787.8,760.0 788.4,770.0 788.7,785.0 788.7,803.0 787.7,827.0 785.6,845.0 783.5,857.0 778.1,876.0 746.6,876.0 742.7,855.0 740.4,838.0 738.8,816.0 738.1,798.0 739.0,762.0 738.7,742.0 739.0,718.0 740.2,692.0 740.3,625.0 739.3,472.0 738.4,421.0 737.2,380.0 736.0,357.0 734.0,333.0 732.4,319.0 729.5,306.0 728.7,301.0 728.3,285.0 725.6,262.0 724.9,254.0 724.8,221.0 726.5,166.0 726.0,151.0 725.5,145.0 724.8,142.0 720.3,133.0 718.9,129.0 718.7,121.0Z"/>
<path fill="#d71900" d="M805.7,121.0 805.5,129.0 804.8,132.0 801.5,140.0 800.6,143.0 799.7,154.0 799.4,166.0 800.2,189.0 800.3,226.0 799.3,255.0 793.5,303.0 791.0,317.0 789.0,334.0 786.5,361.0 784.8,390.0 783.8,431.0 782.5,530.0 782.4,636.0 783.0,691.0 785.0,718.0 785.6,731.0 785.8,761.0 787.5,789.0 787.6,804.0 786.8,827.0 784.8,845.0 782.9,856.0 777.4,876.0 747.4,876.0 743.3,854.0 741.3,838.0 740.0,819.0 739.2,798.0 739.3,790.0 740.7,772.0 741.0,764.0 740.6,739.0 742.4,695.0 742.6,654.0 741.9,450.0 739.9,377.0 738.4,348.0 736.1,320.0 732.2,301.0 731.6,286.0 728.2,261.0 727.3,251.0 726.5,230.0 726.5,199.0 726.7,181.0 727.4,164.0 726.6,146.0 725.6,141.0 721.5,130.0 721.1,127.0 721.1,121.0Z"/>
<path fill="#ff0000" d="M803.3,121.0 803.2,129.0 802.3,133.0 799.7,142.0 799.0,151.0 798.6,165.0 799.3,181.0 799.2,206.0 798.3,232.0 797.1,251.0 796.0,261.0 790.8,297.0 787.2,319.0 784.3,351.0 782.0,390.0 780.7,443.0 780.0,602.0 780.4,666.0 780.8,693.0 783.8,735.0 784.0,743.0 783.8,761.0 784.7,774.0 786.3,790.0 786.5,805.0 785.9,827.0 784.0,845.0 782.2,856.0 776.6,876.0 748.1,876.0 746.5,866.0 744.1,854.0 742.1,838.0 741.3,827.0 740.3,796.0 740.6,789.0 742.8,770.0 743.0,761.0 742.4,739.0 743.6,720.0 744.7,693.0 744.8,621.0 744.3,530.0 744.7,450.0 744.1,419.0 741.9,355.0 739.8,321.0 739.1,316.0 735.8,301.0 734.8,286.0 730.5,258.0 729.2,245.0 728.3,228.0 727.5,204.0 727.5,181.0 728.2,165.0 727.9,152.0 727.3,143.0 724.2,132.0 723.6,129.0 723.5,121.0Z"/>
<path fill="#ff2300" d="M801.5,121.0 801.2,130.0 798.4,141.0 797.9,145.0 797.8,166.0 798.3,181.0 798.3,203.0 797.8,217.0 796.8,234.0 794.7,254.0 790.1,279.0 787.0,304.0 784.4,318.0 781.5,351.0 779.5,390.0 778.6,434.0 777.8,530.0 777.7,610.0 778.0,656.0 778.5,691.0 780.4,718.0 781.0,730.0 781.3,761.0 782.4,770.0 783.5,787.0 783.7,808.0 783.3,828.0 781.7,846.0 780.7,854.0 779.0,864.0 775.9,876.0 748.8,876.0 746.4,858.0 744.2,835.0 743.5,818.0 743.1,796.0 743.5,785.0 745.6,761.0 745.2,738.0 746.9,696.0 747.1,667.0 746.8,530.0 747.0,450.0 745.0,365.0 744.0,341.0 742.5,320.0 738.6,301.0 737.8,284.0 732.2,254.0 729.9,233.0 728.5,203.0 728.5,181.0 729.0,166.0 728.9,145.0 728.4,141.0 725.6,130.0 725.3,121.0Z"/>
<path fill="#ff5000" d="M799.7,121.0 799.5,130.0 797.2,140.0 796.6,144.0 797.2,179.0 797.2,201.0 796.9,212.0 796.0,228.0 794.9,238.0 792.6,253.0 786.7,280.0 784.2,304.0 781.6,318.0 778.8,351.0 776.9,390.0 775.3,530.0 775.6,646.0 776.2,691.0 778.3,720.0 778.7,760.0 780.3,769.0 780.7,778.0 780.9,819.0 780.5,833.0 778.1,862.0 777.3,868.0 775.2,876.0 749.5,876.0 748.5,868.0 747.8,852.0 746.5,832.0 745.9,795.0 746.8,770.0 748.1,761.0 748.1,718.0 749.2,694.0 749.4,659.0 749.2,450.0 747.6,362.0 746.7,340.0 745.4,320.0 741.5,301.0 741.0,284.0 739.4,275.0 734.0,252.0 731.9,238.0 730.8,228.0 729.9,212.0 729.6,201.0 729.6,179.0 730.2,144.0 729.6,140.0 727.3,130.0 727.1,121.0Z"/>
<path fill="#ff7300" d="M797.9,121.0 797.7,130.0 795.7,140.0 795.2,144.0 796.0,165.0 796.2,201.0 795.9,212.0 794.9,226.0 793.8,235.0 790.8,252.0 785.0,280.0 782.0,304.0 779.9,317.0 776.9,352.0 775.0,390.0 773.6,530.0 774.2,650.0 774.8,691.0 776.9,720.0 777.7,760.0 779.0,770.0 779.6,783.0 779.9,825.0 779.4,837.0 777.2,862.0 776.4,868.0 774.4,876.0 750.3,876.0 749.4,868.0 747.4,832.0 747.0,795.0 747.6,779.0 749.0,761.0 749.4,725.0 750.6,694.0 750.8,662.0 751.0,450.0 749.5,366.0 748.6,342.0 747.2,320.0 743.6,301.0 742.9,285.0 741.2,275.0 735.9,251.0 733.0,235.0 731.9,226.0 730.9,212.0 730.6,201.0 730.8,165.0 731.6,144.0 731.1,140.0 729.1,130.0 728.9,121.0Z"/>
<path fill="#ff9600" d="M796.9,121.0 796.7,130.0 794.8,140.0 794.4,144.0 795.2,164.0 795.2,201.0 794.9,211.0 793.8,225.0 792.5,235.0 789.4,252.0 783.2,281.0 778.3,315.0 775.1,353.0 773.2,390.0 771.9,530.0 772.8,653.0 773.4,691.0 775.4,719.0 776.5,755.0 778.5,788.0 779.0,825.0 778.4,837.0 776.5,860.0 775.7,867.0 773.7,876.0 751.0,876.0 750.3,868.0 748.4,832.0 748.1,795.0 750.0,761.0 751.0,717.0 751.9,694.0 752.3,663.0 752.8,450.0 751.4,369.0 750.5,345.0 748.9,320.0 745.8,301.0 744.8,286.0 742.9,276.0 737.2,251.0 734.3,235.0 733.0,225.0 731.9,211.0 731.6,201.0 731.6,164.0 732.4,144.0 732.0,140.0 730.1,130.0 729.9,121.0Z"/>
<path fill="#ffb900" d="M795.9,121.0 795.7,130.0 793.8,141.0 793.5,145.0 794.7,165.0 794.5,202.0 794.0,211.0 792.1,228.0 790.1,241.0 787.3,256.0 781.7,280.0 778.1,301.0 776.4,316.0 773.7,347.0 772.3,369.0 771.4,390.0 770.2,530.0 771.3,655.0 772.0,691.0 774.1,720.0 774.8,742.0 777.4,791.0 778.0,825.0 777.5,837.0 776.2,855.0 774.9,866.0 772.9,876.0 751.8,876.0 749.4,834.0 749.2,808.0 749.4,792.0 751.0,770.0 751.1,757.0 753.3,695.0 753.8,663.0 754.4,556.0 754.5,450.0 753.3,371.0 752.4,347.0 750.7,320.0 747.9,301.0 746.5,286.0 744.5,276.0 739.4,255.0 737.4,245.0 735.0,230.0 732.8,211.0 732.3,202.0 732.1,165.0 733.3,145.0 733.0,141.0 731.1,130.0 730.9,121.0Z"/>
<path fill="#ffdc00" d="M794.8,121.0 794.7,130.0 792.9,141.0 792.6,145.0 794.3,164.0 793.9,181.0 793.9,201.0 793.5,207.0 790.2,232.0 787.3,249.0 785.4,258.0 780.1,280.0 776.0,301.0 771.4,354.0 769.5,390.0 768.5,530.0 769.9,657.0 770.7,692.0 772.7,720.0 773.5,742.0 774.7,758.0 774.9,775.0 776.3,793.0 777.0,825.0 776.6,836.0 775.5,853.0 774.0,866.0 772.2,876.0 752.5,876.0 750.4,836.0 750.2,813.0 750.5,793.0 752.4,772.0 752.0,757.0 752.9,743.0 754.7,697.0 755.2,664.0 756.0,555.0 756.3,450.0 755.2,373.0 754.2,349.0 752.5,320.0 748.6,288.0 746.8,279.0 739.7,250.0 736.6,232.0 733.3,207.0 732.9,201.0 732.9,181.0 732.5,164.0 734.1,145.0 733.9,141.0 732.1,130.0 732.0,121.0Z"/>
<path fill="#fffa00" d="M793.8,121.0 793.7,130.0 792.1,141.0 791.8,145.0 792.0,149.0 793.8,164.0 793.2,181.0 793.2,201.0 792.9,206.0 785.6,251.0 783.6,259.0 777.1,281.0 773.2,301.0 768.9,360.0 767.6,387.0 766.9,530.0 767.9,639.0 769.1,690.0 772.0,737.0 772.6,773.0 774.4,793.0 775.5,824.0 775.2,835.0 773.5,860.0 773.0,866.0 771.5,876.0 753.3,876.0 752.7,852.0 751.8,831.0 751.8,814.0 752.4,794.0 754.3,777.0 754.7,771.0 754.3,741.0 755.6,720.0 756.1,704.0 757.3,627.0 758.1,450.0 757.2,371.0 754.9,320.0 751.4,288.0 749.5,279.0 743.3,259.0 741.2,251.0 739.4,241.0 733.9,206.0 733.6,201.0 733.6,181.0 733.0,164.0 734.8,149.0 735.0,145.0 734.7,141.0 733.1,130.0 733.0,121.0Z"/>
<path fill="#ffff28" d="M793.1,121.0 793.0,130.0 791.5,141.0 791.2,145.0 793.1,164.0 792.1,203.0 790.8,210.0 787.3,224.0 782.0,252.0 774.7,279.0 770.6,299.0 770.1,305.0 769.6,320.0 765.4,365.0 764.3,385.0 764.3,401.0 765.5,450.0 765.4,530.0 765.7,610.0 766.1,637.0 768.2,707.0 769.0,722.0 770.7,740.0 770.6,746.0 769.9,758.0 770.0,765.0 770.5,775.0 772.5,794.0 773.6,812.0 774.0,824.0 772.0,866.0 770.5,876.0 754.2,876.0 754.0,869.0 754.2,851.0 753.3,831.0 753.2,820.0 754.3,794.0 756.5,776.0 756.9,770.0 756.9,758.0 755.7,741.0 757.5,720.0 758.9,635.0 759.2,530.0 760.0,443.0 760.8,399.0 760.7,378.0 760.0,361.0 757.2,320.0 755.4,297.0 754.0,286.0 751.9,277.0 744.6,251.0 739.5,224.0 736.0,210.0 734.7,203.0 733.7,164.0 735.6,145.0 735.3,141.0 733.8,130.0 733.7,121.0Z"/>
<path fill="#ffff4b" d="M792.5,121.0 792.3,130.0 790.9,141.0 790.7,145.0 792.5,165.0 791.3,201.0 789.9,208.0 784.4,225.0 778.5,252.0 772.0,278.0 767.9,298.0 767.5,302.0 767.0,323.0 763.5,367.0 762.6,385.0 762.5,385.0 762.0,366.0 759.0,308.0 758.3,297.0 757.4,290.0 755.5,280.0 748.0,251.0 742.4,225.0 736.9,208.0 735.5,201.0 734.3,165.0 736.1,145.0 735.9,141.0 734.5,130.0 734.3,121.0ZM762.6,398.0 763.7,450.0 763.9,610.0 764.2,630.0 767.0,721.0 769.3,741.0 769.1,746.0 767.5,757.0 767.5,762.0 768.4,775.0 770.6,794.0 772.0,812.0 772.5,824.0 771.2,849.0 771.0,866.0 769.5,876.0 755.2,876.0 754.9,868.0 755.7,851.0 754.7,829.0 754.8,816.0 756.1,795.0 758.9,774.0 759.4,763.0 759.2,757.0 757.4,746.0 757.1,742.0 757.4,737.0 759.0,725.0 759.4,720.0 759.4,690.0 760.9,623.0 760.9,520.0 762.5,398.0Z"/>
<path fill="#ffff73" d="M791.8,121.0 791.7,130.0 790.1,144.0 790.3,149.0 791.5,160.0 791.8,165.0 791.4,186.0 790.4,201.0 788.9,208.0 783.3,226.0 766.1,301.0 764.8,317.0 762.7,377.0 762.6,377.0 762.6,349.0 762.1,320.0 761.4,312.0 759.0,294.0 756.8,282.0 748.8,250.0 743.5,226.0 737.9,208.0 736.4,201.0 735.4,186.0 735.0,165.0 735.3,160.0 736.5,149.0 736.7,144.0 735.1,130.0 735.0,121.0ZM762.8,694.0 764.6,722.0 766.2,740.0 766.1,746.0 764.8,757.0 764.8,762.0 766.3,774.0 769.4,793.0 771.0,810.0 771.6,821.0 771.5,830.0 770.3,849.0 770.0,866.0 768.5,876.0 756.2,876.0 755.9,868.0 756.5,850.0 755.6,829.0 755.7,817.0 757.3,794.0 761.0,773.0 762.0,763.0 761.9,757.0 760.4,746.0 760.2,741.0 761.9,720.0 762.7,694.0Z"/>
<path fill="#ffff9b" d="M791.1,121.0 791.0,130.0 789.5,144.0 789.7,149.0 790.9,160.0 791.1,166.0 790.8,186.0 789.5,201.0 788.0,208.0 782.5,226.0 768.6,286.0 765.4,298.0 764.0,308.0 763.4,318.0 763.3,318.0 762.7,311.0 760.9,298.0 758.6,286.0 744.1,225.0 738.8,208.0 737.3,201.0 736.0,186.0 735.7,166.0 735.9,160.0 737.1,149.0 737.3,144.0 735.8,130.0 735.7,121.0ZM763.6,771.0 764.4,777.0 768.2,793.0 769.9,809.0 770.7,820.0 770.7,828.0 769.5,847.0 769.0,866.0 767.5,876.0 757.2,876.0 756.9,869.0 757.4,849.0 756.4,827.0 756.8,813.0 758.6,793.0 762.7,777.0 763.6,771.0Z"/>
<path fill="#ffffc8" d="M790.5,121.0 790.4,130.0 789.0,145.0 790.4,163.0 790.3,183.0 789.9,190.0 788.7,200.0 787.3,207.0 782.7,222.0 780.9,229.0 767.7,286.0 763.9,298.0 763.4,301.0 763.3,314.0 763.2,314.0 762.6,300.0 762.0,296.0 745.5,227.0 739.8,208.0 738.1,200.0 736.9,190.0 736.5,183.0 736.4,163.0 737.8,145.0 736.4,130.0 736.3,121.0ZM763.6,771.0 764.3,778.0 767.2,794.0 769.2,812.0 769.9,823.0 769.8,830.0 768.7,848.0 768.0,866.0 766.5,876.0 758.2,876.0 757.9,869.0 758.2,850.0 757.3,828.0 757.5,817.0 759.6,794.0 762.8,778.0 763.6,771.0Z"/>
<path fill="#fffff0" d="M789.8,121.0 789.7,130.0 788.4,144.0 789.8,165.0 789.8,184.0 788.7,194.0 786.8,205.0 779.7,230.0 774.0,254.0 766.8,286.0 764.0,295.0 763.1,300.0 763.0,300.0 762.0,293.0 749.0,238.0 745.3,223.0 740.0,205.0 737.9,193.0 737.0,184.0 737.0,165.0 738.4,144.0 737.1,130.0 737.0,121.0ZM763.6,772.0 764.1,779.0 768.4,813.0 769.1,824.0 767.0,866.0 765.5,876.0 759.2,876.0 759.0,869.0 759.1,852.0 758.2,831.0 758.2,820.0 760.6,795.0 762.9,779.0 763.5,772.0Z"/>
</g>
<rect x="647.2" y="121.2" width="231.0" height="2.1" fill="#f2f2f2"/>
<rect x="659.0" y="875.7" width="219.6" height="1" fill="#444"/>
<rect x="646.4" y="123" width="1.1" height="753" fill="#777"/>
<rect x="210.2" y="292.3" width="3.6" height="4.6" fill="#a8a040"/><rect x="210.2" y="296.6" width="3.6" height="4" fill="#a87a28"/>
<rect x="75.2" y="118.7" width="20" height="4" fill="#000"/>
<rect x="75.2" y="176.7" width="20" height="4" fill="#000"/>
<rect x="75.2" y="234.7" width="20" height="4" fill="#000"/>
<rect x="75.2" y="292.7" width="20" height="4" fill="#000"/>
<rect x="75.2" y="350.7" width="20" height="4" fill="#000"/>
<rect x="75.2" y="408.7" width="20" height="4" fill="#000"/>
<rect x="75.2" y="466.7" width="20" height="4" fill="#000"/>
<rect x="75.2" y="524.7" width="20" height="4" fill="#000"/>
<rect x="75.2" y="582.7" width="20" height="4" fill="#000"/>
<rect x="75.2" y="640.7" width="20" height="4" fill="#000"/>
<rect x="75.2" y="698.7" width="20" height="4" fill="#000"/>
<rect x="75.2" y="756.7" width="20" height="4" fill="#000"/>
<rect x="75.2" y="814.7" width="20" height="4" fill="#000"/>
<rect x="75.2" y="872.7" width="20" height="4" fill="#000"/>
<rect x="93.5" y="876.5" width="3.8" height="16.2" fill="#000"/>
<rect x="151.3" y="876.5" width="3.8" height="16.2" fill="#000"/>
<rect x="209.2" y="862.0" width="3.8" height="30.7" fill="#000"/>
<rect x="267.1" y="876.5" width="3.8" height="16.2" fill="#000"/>
<rect x="324.9" y="876.5" width="3.8" height="16.2" fill="#000"/>
<rect x="369.6" y="876.5" width="3.8" height="17.9" fill="#000"/>
<rect x="427.4" y="876.5" width="3.8" height="17.9" fill="#000"/>
<rect x="485.2" y="862.0" width="3.8" height="32.4" fill="#000"/>
<rect x="543.0" y="876.5" width="3.8" height="17.9" fill="#000"/>
<rect x="600.8" y="876.5" width="3.8" height="17.9" fill="#000"/>
<rect x="644.6" y="876.5" width="3.8" height="17.9" fill="#000"/>
<rect x="702.5" y="876.5" width="3.8" height="17.9" fill="#000"/>
<rect x="760.4" y="862.0" width="3.8" height="32.4" fill="#000"/>
<rect x="818.3" y="876.5" width="3.8" height="17.9" fill="#000"/>
<rect x="876.2" y="876.5" width="3.8" height="17.9" fill="#000"/>
</svg>
<div style="left:53.6px;top:-5.6px;font-size:40px;color:#000;letter-spacing:-0.2px">Emission</div>
<div style="left:53.6px;top:41.8px;font-size:40px;color:#000;letter-spacing:-0.22px">intensity [a.u.]</div>
<div style="left:357.7px;top:-1.6px;font-size:40px;color:#000;">0</div>
<div style="left:838.1px;top:-1.6px;font-size:40px;color:#000;"><svg class="o" viewBox="0 0 556 716"><path d="M373 716V0H312L111 181V262L288 167V716Z"/></svg></div>
<div style="left:49.8px;top:96.3px;font-size:35px;color:#000;">0</div>
<div style="left:49.8px;top:154.5px;font-size:35px;color:#000;"><svg class="o" viewBox="0 0 556 716"><path d="M373 716V0H312L111 181V262L288 167V716Z"/></svg></div>
<div style="left:49.8px;top:212.7px;font-size:35px;color:#000;">2</div>
<div style="left:49.8px;top:270.9px;font-size:35px;color:#000;">3</div>
<div style="left:49.8px;top:329.0px;font-size:35px;color:#000;">4</div>
<div style="left:49.8px;top:387.2px;font-size:35px;color:#000;">5</div>
<div style="left:49.8px;top:445.4px;font-size:35px;color:#000;">6</div>
<div style="left:49.8px;top:503.5px;font-size:35px;color:#000;">7</div>
<div style="left:49.8px;top:561.7px;font-size:35px;color:#000;">8</div>
<div style="left:49.8px;top:619.9px;font-size:35px;color:#000;">9</div>
<div style="left:26.8px;top:678.1px;font-size:35px;color:#000;"><svg class="o" viewBox="0 0 556 716"><path d="M373 716V0H312L111 181V262L288 167V716Z"/></svg>0</div>
<div style="left:26.8px;top:736.2px;font-size:35px;color:#000;"><svg class="o" viewBox="0 0 556 716"><path d="M373 716V0H312L111 181V262L288 167V716Z"/></svg><svg class="o" viewBox="0 0 556 716"><path d="M373 716V0H312L111 181V262L288 167V716Z"/></svg></div>
<div style="left:26.8px;top:794.4px;font-size:35px;color:#000;"><svg class="o" viewBox="0 0 556 716"><path d="M373 716V0H312L111 181V262L288 167V716Z"/></svg>2</div>
<div style="left:26.8px;top:852.6px;font-size:35px;color:#000;"><svg class="o" viewBox="0 0 556 716"><path d="M373 716V0H312L111 181V262L288 167V716Z"/></svg>3</div>
<div style="left:85.1px;top:894.6px;font-size:34px;color:#000;">2</div>
<div style="left:73.8px;top:894.6px;font-size:34px;color:#000;">-</div>
<div style="left:143.0px;top:894.6px;font-size:34px;color:#000;"><svg class="o" viewBox="0 0 556 716"><path d="M373 716V0H312L111 181V262L288 167V716Z"/></svg></div>
<div style="left:131.7px;top:894.6px;font-size:34px;color:#000;">-</div>
<div style="left:200.8px;top:894.6px;font-size:34px;color:#000;">0</div>
<div style="left:258.7px;top:894.6px;font-size:34px;color:#000;"><svg class="o" viewBox="0 0 556 716"><path d="M373 716V0H312L111 181V262L288 167V716Z"/></svg></div>
<div style="left:316.5px;top:894.6px;font-size:34px;color:#000;">2</div>
<div style="left:361.2px;top:896.4px;font-size:34px;color:#000;">2</div>
<div style="left:349.9px;top:896.4px;font-size:34px;color:#000;">-</div>
<div style="left:419.0px;top:896.4px;font-size:34px;color:#000;"><svg class="o" viewBox="0 0 556 716"><path d="M373 716V0H312L111 181V262L288 167V716Z"/></svg></div>
<div style="left:407.7px;top:896.4px;font-size:34px;color:#000;">-</div>
<div style="left:476.8px;top:896.4px;font-size:34px;color:#000;">0</div>
<div style="left:534.6px;top:896.4px;font-size:34px;color:#000;"><svg class="o" viewBox="0 0 556 716"><path d="M373 716V0H312L111 181V262L288 167V716Z"/></svg></div>
<div style="left:592.4px;top:896.4px;font-size:34px;color:#000;">2</div>
<div style="left:636.2px;top:896.4px;font-size:34px;color:#000;">2</div>
<div style="left:624.9px;top:896.4px;font-size:34px;color:#000;">-</div>
<div style="left:694.1px;top:896.4px;font-size:34px;color:#000;"><svg class="o" viewBox="0 0 556 716"><path d="M373 716V0H312L111 181V262L288 167V716Z"/></svg></div>
<div style="left:682.8px;top:896.4px;font-size:34px;color:#000;">-</div>
<div style="left:752.0px;top:896.4px;font-size:34px;color:#000;">0</div>
<div style="left:809.9px;top:896.4px;font-size:34px;color:#000;"><svg class="o" viewBox="0 0 556 716"><path d="M373 716V0H312L111 181V262L288 167V716Z"/></svg></div>
<div style="left:867.8px;top:896.4px;font-size:34px;color:#000;">2</div>
<div style="left:162.5px;top:929.0px;font-size:33.6px;color:#000;">r-axis [mm]</div>
<div style="left:438.7px;top:931.4px;font-size:33.6px;color:#000;">r-axis [mm]</div>
<div style="left:714.0px;top:931.4px;font-size:33.6px;color:#000;">r-axis [mm]</div>
<div style="left:24.8px;top:518.4px;font-size:33px;transform:rotate(-90deg);transform-origin:0 28.05px;">z-axis [mm]</div>
<div style="left:106.3px;top:827.4px;font-size:41px;color:#fff;">(a)</div>
<div style="left:378.3px;top:827.4px;font-size:41px;color:#fff;">(b)</div>
<div style="left:657.4px;top:827.4px;font-size:41px;color:#fff;">(c)</div>
<div style="left:232.2px;top:828.2px;font-size:39px;color:#fff;">x 4.5</div>
<div style="left:511.6px;top:828.2px;font-size:39px;color:#fff;">x <svg class="o" viewBox="0 0 556 716"><path d="M373 716V0H312L111 181V262L288 167V716Z"/></svg>.5</div>
<div style="left:786.5px;top:828.2px;font-size:39px;color:#fff;">x <svg class="o" viewBox="0 0 556 716"><path d="M373 716V0H312L111 181V262L288 167V716Z"/></svg>.0</div>
</body></html>
